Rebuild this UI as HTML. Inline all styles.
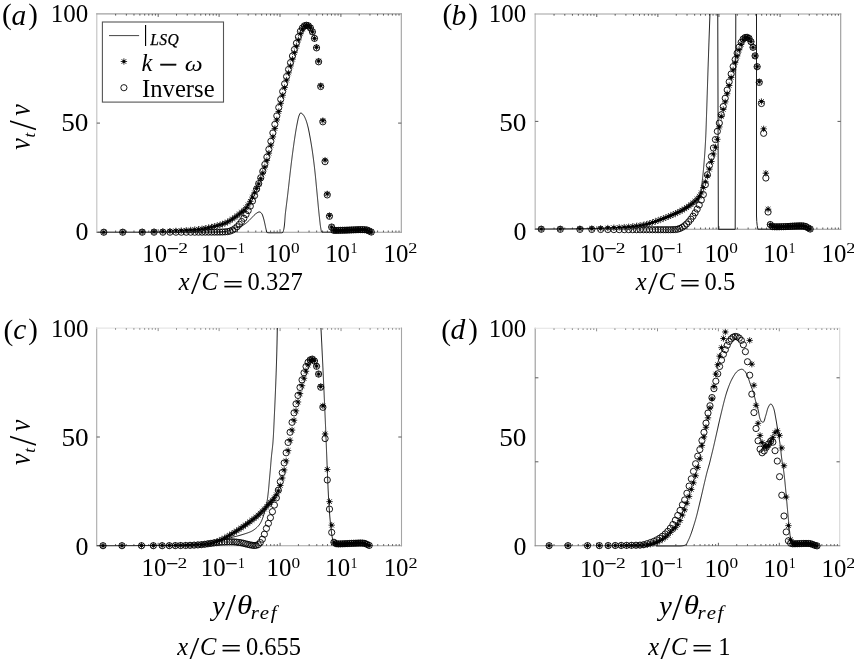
<!DOCTYPE html>
<html><head><meta charset="utf-8"><title>figure</title>
<style>html,body{margin:0;padding:0;background:#fff}svg{display:block}</style></head>
<body><svg width="854" height="662" viewBox="0 0 854 662">
<rect width="854" height="662" fill="#fff"/>
<path d="M96.80 13.35V232.75" stroke="#c0c0c0" stroke-width="1.1"/>
<path d="M96.25 13.90H401.85" stroke="#a0a0a0" stroke-width="1.1"/>
<path d="M401.30 13.35V232.75" stroke="#a0a0a0" stroke-width="1.1"/>
<path d="M96.25 232.20H401.85" stroke="#999" stroke-width="1.1"/>
<path d="M115.63 232.20v-1.7M126.36 232.20v-1.7M133.97 232.20v-1.7M139.87 232.20v-1.7M144.69 232.20v-1.7M148.77 232.20v-1.7M152.30 232.20v-1.7M155.41 232.20v-1.7M158.20 232.20v-3.0M176.53 232.20v-1.7M187.26 232.20v-1.7M194.87 232.20v-1.7M200.77 232.20v-1.7M205.59 232.20v-1.7M209.67 232.20v-1.7M213.20 232.20v-1.7M216.31 232.20v-1.7M219.10 232.20v-3.0M237.43 232.20v-1.7M248.16 232.20v-1.7M255.77 232.20v-1.7M261.67 232.20v-1.7M266.49 232.20v-1.7M270.57 232.20v-1.7M274.10 232.20v-1.7M277.21 232.20v-1.7M280.00 232.20v-3.0M298.33 232.20v-1.7M309.06 232.20v-1.7M316.67 232.20v-1.7M322.57 232.20v-1.7M327.39 232.20v-1.7M331.47 232.20v-1.7M335.00 232.20v-1.7M338.11 232.20v-1.7M340.90 232.20v-3.0M359.23 232.20v-1.7M369.96 232.20v-1.7M377.57 232.20v-1.7M383.47 232.20v-1.7M388.29 232.20v-1.7M392.37 232.20v-1.7M395.90 232.20v-1.7M399.01 232.20v-1.7M96.80 123.10h3.2M401.30 123.10h-3.2" stroke="#4a4a4a" stroke-width="0.9" fill="none"/>
<path d="M115.63 13.90v1.7M126.36 13.90v1.7M133.97 13.90v1.7M139.87 13.90v1.7M144.69 13.90v1.7M148.77 13.90v1.7M152.30 13.90v1.7M155.41 13.90v1.7M158.20 13.90v3.0M176.53 13.90v1.7M187.26 13.90v1.7M194.87 13.90v1.7M200.77 13.90v1.7M205.59 13.90v1.7M209.67 13.90v1.7M213.20 13.90v1.7M216.31 13.90v1.7M219.10 13.90v3.0M237.43 13.90v1.7M248.16 13.90v1.7M255.77 13.90v1.7M261.67 13.90v1.7M266.49 13.90v1.7M270.57 13.90v1.7M274.10 13.90v1.7M277.21 13.90v1.7M280.00 13.90v3.0M298.33 13.90v1.7M309.06 13.90v1.7M316.67 13.90v1.7M322.57 13.90v1.7M327.39 13.90v1.7M331.47 13.90v1.7M335.00 13.90v1.7M338.11 13.90v1.7M340.90 13.90v3.0M359.23 13.90v1.7M369.96 13.90v1.7M377.57 13.90v1.7M383.47 13.90v1.7M388.29 13.90v1.7M392.37 13.90v1.7M395.90 13.90v1.7M399.01 13.90v1.7" stroke="#4a4a4a" stroke-width="0.9" fill="none"/>
<clipPath id="cpa"><rect x="92.80" y="13.90" width="312.50" height="223.30"/></clipPath>
<clipPath id="cla"><rect x="96.80" y="13.90" width="304.50" height="219.80"/></clipPath>
<path d="M97.40 232.20L98.41 232.20L99.41 232.20L100.42 232.20L101.42 232.20L102.42 232.20L103.43 232.20L104.43 232.20L105.44 232.20L106.44 232.20L107.45 232.20L108.45 232.20L109.46 232.20L110.46 232.20L111.47 232.20L112.47 232.20L113.48 232.20L114.48 232.20L115.49 232.20L116.49 232.20L117.49 232.20L118.50 232.20L119.50 232.20L120.51 232.20L121.51 232.20L122.51 232.20L123.52 232.20L124.52 232.20L125.53 232.20L126.53 232.20L127.53 232.20L128.54 232.20L129.54 232.20L130.55 232.20L131.55 232.20L132.55 232.20L133.56 232.19L134.56 232.19L135.57 232.19L136.57 232.19L137.57 232.19L138.58 232.19L139.58 232.19L140.58 232.19L141.59 232.19L142.59 232.19L143.59 232.19L144.60 232.19L145.60 232.19L146.60 232.19L147.61 232.19L148.61 232.19L149.61 232.19L150.62 232.19L151.62 232.19L152.62 232.19L153.63 232.18L154.63 232.18L155.63 232.18L156.63 232.18L157.64 232.18L158.64 232.18L159.64 232.18L160.65 232.18L161.65 232.18L162.65 232.18L163.65 232.18L164.66 232.18L165.66 232.18L166.66 232.17L167.67 232.17L168.67 232.17L169.67 232.17L170.67 232.17L171.68 232.17L172.68 232.17L173.68 232.17L174.68 232.17L175.69 232.17L176.69 232.16L177.69 232.16L178.69 232.16L179.70 232.16L180.70 232.16L181.70 232.16L182.70 232.16L183.71 232.15L184.71 232.15L185.71 232.15L186.71 232.15L187.71 232.15L188.72 232.15L189.72 232.15L190.72 232.14L191.72 232.14L192.73 232.14L193.73 232.14L194.73 232.14L195.73 232.14L196.73 232.13L197.74 232.13L198.74 232.13L199.74 232.13L200.74 232.13L201.74 232.13L202.75 232.12L203.75 232.12L204.75 232.12L205.75 232.12L206.75 232.12L207.76 232.11L208.76 232.11L209.76 232.11L210.76 232.11L211.76 232.11L212.77 232.10L213.77 232.10L214.77 232.09L215.78 232.08L216.79 232.05L217.80 232.01L218.81 231.96L219.82 231.90L220.82 231.83L221.83 231.75L222.83 231.66L223.82 231.56L224.81 231.46L225.79 231.35L226.76 231.21L227.72 230.97L228.67 230.66L229.61 230.29L230.56 229.89L231.50 229.50L232.44 229.15L233.38 228.81L234.33 228.47L235.27 228.12L236.21 227.78L237.15 227.43L238.09 227.08L239.04 226.74L240.00 226.41L240.96 226.08L241.90 225.74L242.81 225.34L243.67 224.89L244.51 224.35L245.32 223.76L246.12 223.12L246.90 222.46L247.66 221.80L248.41 221.14L249.13 220.45L249.84 219.73L250.53 219.01L251.23 218.28L251.93 217.56L252.64 216.84L253.33 216.09L254.02 215.34L254.74 214.63L255.48 213.98L256.28 213.41L257.16 212.81L258.08 212.27L259.00 211.94L259.90 212.00L260.83 212.56L261.55 213.26L262.04 214.03L262.46 214.95L262.81 215.95L263.13 216.96L263.43 217.92L263.70 218.88L263.96 219.85L264.19 220.83L264.42 221.81L264.64 222.79L264.86 223.77L265.07 224.75L265.27 225.74L265.47 226.72L265.68 227.70L265.92 228.68L266.17 229.71L266.42 230.91L266.73 231.96L267.14 232.57L267.87 232.75L268.97 232.86L270.07 232.90L271.09 232.90L272.13 232.90L273.19 232.90L274.25 232.90L275.31 232.90L276.36 232.90L277.40 232.90L278.42 232.90L279.40 232.90L280.35 232.90L281.25 232.90L282.09 232.89L282.93 232.21L283.26 231.41L283.49 230.60L283.70 229.74L283.89 228.85L284.05 227.92L284.20 226.96L284.32 225.97L284.44 224.97L284.54 223.94L284.63 222.89L284.72 221.83L284.80 220.77L284.87 219.70L284.95 218.62L285.03 217.55L285.11 216.49L285.19 215.43L285.29 214.39L285.39 213.36L285.51 212.35L285.63 211.36L285.75 210.36L285.87 209.37L286.00 208.37L286.12 207.38L286.25 206.38L286.37 205.39L286.49 204.39L286.62 203.40L286.74 202.40L286.87 201.40L286.99 200.41L287.11 199.41L287.23 198.42L287.35 197.42L287.47 196.43L287.59 195.43L287.71 194.43L287.83 193.44L287.95 192.44L288.06 191.44L288.18 190.45L288.29 189.45L288.41 188.45L288.52 187.46L288.63 186.46L288.74 185.46L288.85 184.47L288.96 183.47L289.08 182.47L289.19 181.48L289.30 180.48L289.41 179.48L289.52 178.49L289.63 177.49L289.75 176.49L289.86 175.49L289.98 174.50L290.09 173.50L290.21 172.51L290.33 171.51L290.45 170.51L290.57 169.52L290.68 168.52L290.80 167.52L290.92 166.53L291.04 165.53L291.16 164.54L291.28 163.54L291.41 162.55L291.53 161.55L291.65 160.55L291.78 159.56L291.90 158.56L292.03 157.57L292.15 156.57L292.28 155.58L292.41 154.58L292.54 153.59L292.67 152.59L292.80 151.60L292.94 150.61L293.07 149.61L293.20 148.62L293.34 147.62L293.47 146.63L293.61 145.63L293.75 144.64L293.89 143.65L294.03 142.65L294.18 141.66L294.32 140.67L294.47 139.68L294.62 138.68L294.77 137.69L294.92 136.70L295.08 135.71L295.23 134.72L295.38 133.73L295.54 132.73L295.69 131.74L295.86 130.75L296.02 129.76L296.19 128.77L296.36 127.78L296.54 126.79L296.72 125.81L296.91 124.83L297.11 123.84L297.31 122.86L297.51 121.86L297.71 120.86L297.91 119.85L298.13 118.85L298.37 117.86L298.63 116.89L298.93 115.95L299.27 115.04L299.67 114.13L300.28 113.15L300.99 112.95L301.86 113.46L302.72 114.21L303.37 114.93L303.93 115.74L304.44 116.63L304.90 117.56L305.31 118.49L305.69 119.41L306.05 120.34L306.38 121.29L306.70 122.25L306.99 123.21L307.27 124.18L307.53 125.16L307.78 126.12L308.02 127.10L308.25 128.07L308.47 129.05L308.68 130.03L308.88 131.01L309.07 132.00L309.27 132.99L309.45 133.97L309.64 134.96L309.82 135.95L310.00 136.94L310.18 137.92L310.36 138.91L310.53 139.90L310.71 140.89L310.88 141.87L311.04 142.86L311.21 143.85L311.37 144.84L311.53 145.83L311.69 146.82L311.85 147.82L312.00 148.81L312.15 149.80L312.30 150.79L312.44 151.78L312.58 152.78L312.72 153.77L312.86 154.76L313.00 155.76L313.13 156.75L313.27 157.75L313.40 158.74L313.53 159.74L313.66 160.73L313.78 161.73L313.91 162.72L314.03 163.72L314.15 164.71L314.27 165.71L314.39 166.71L314.50 167.70L314.62 168.70L314.73 169.70L314.84 170.69L314.95 171.69L315.06 172.69L315.17 173.68L315.27 174.68L315.37 175.68L315.47 176.68L315.57 177.68L315.67 178.67L315.77 179.67L315.86 180.67L315.96 181.67L316.05 182.67L316.15 183.67L316.24 184.67L316.33 185.67L316.43 186.66L316.52 187.66L316.62 188.66L316.71 189.66L316.81 190.66L316.90 191.66L317.00 192.66L317.10 193.65L317.19 194.65L317.29 195.65L317.38 196.65L317.48 197.65L317.57 198.65L317.67 199.65L317.76 200.65L317.85 201.65L317.95 202.64L318.04 203.64L318.13 204.64L318.23 205.64L318.32 206.64L318.42 207.64L318.51 208.64L318.61 209.64L318.71 210.63L318.81 211.63L318.91 212.63L319.02 213.63L319.13 214.62L319.23 215.62L319.35 216.62L319.46 217.61L319.57 218.61L319.67 219.61L319.78 220.62L319.89 221.62L320.00 222.62L320.11 223.62L320.23 224.62L320.36 225.62L320.50 226.61L320.66 227.60L320.83 228.58L321.01 229.56L321.22 230.62L321.52 231.81L321.90 232.20L322.32 232.20L322.76 232.20L323.22 232.20L323.70 232.20L324.21 232.20L324.74 232.20L325.29 232.20L325.87 232.20L326.46 232.20L327.08 232.20L327.73 232.20L328.40 232.20L329.09 232.20L329.81 232.20L330.55 232.20L331.31 232.20L332.10 232.20L332.91 232.20L333.75 232.20L334.61 232.20L335.50 232.20L336.41 232.20L337.35 232.20L338.32 232.20L339.31 232.20L340.32 232.20L341.36 232.20L342.43 232.20L343.52 232.20L344.65 232.20L345.79 232.20L346.97 232.20L348.17 232.20L349.40 232.20L350.65 232.20L351.94 232.20L353.25 232.20L354.59 232.20L355.95 232.20L357.35 232.20L358.77 232.20L360.22 232.20L361.70 232.20L363.21 232.20L364.75 232.20L366.32 232.20L367.92 232.20L369.54 232.20L371.20 232.20" clip-path="url(#cla)" stroke="#111" stroke-width="0.95" fill="none" stroke-linejoin="round"/>
<path d="M100.60 232.19H107.00M103.80 228.99V235.39M101.45 229.84L106.15 234.54M101.45 234.54L106.15 229.84M102.90 231.29h1.8v1.8h-1.8zM119.52 232.09H125.92M122.72 228.89V235.29M120.37 229.74L125.07 234.44M120.37 234.44L125.07 229.74M121.82 231.19h1.8v1.8h-1.8zM139.03 231.90H145.43M142.23 228.70V235.10M139.88 229.55L144.58 234.25M139.88 234.25L144.58 229.55M141.33 231.00h1.8v1.8h-1.8zM150.84 231.73H157.24M154.04 228.53V234.93M151.69 229.38L156.39 234.08M151.69 234.08L156.39 229.38M153.14 230.83h1.8v1.8h-1.8zM159.64 231.47H166.04M162.84 228.27V234.67M160.49 229.12L165.19 233.82M160.49 233.82L165.19 229.12M161.94 230.57h1.8v1.8h-1.8zM166.75 231.20H173.15M169.95 228.00V234.40M167.60 228.85L172.30 233.55M167.60 233.55L172.30 228.85M169.05 230.30h1.8v1.8h-1.8zM172.75 230.92H179.15M175.95 227.72V234.12M173.60 228.57L178.30 233.27M173.60 233.27L178.30 228.57M175.05 230.02h1.8v1.8h-1.8zM178.06 230.61H184.46M181.26 227.41V233.81M178.91 228.26L183.61 232.96M178.91 232.96L183.61 228.26M180.36 229.71h1.8v1.8h-1.8zM183.04 230.28H189.44M186.24 227.08V233.48M183.89 227.93L188.59 232.63M183.89 232.63L188.59 227.93M185.34 229.38h1.8v1.8h-1.8zM187.47 229.95H193.87M190.67 226.75V233.15M188.32 227.60L193.02 232.30M188.32 232.30L193.02 227.60M189.77 229.05h1.8v1.8h-1.8zM191.52 229.61H197.92M194.72 226.41V232.81M192.37 227.26L197.07 231.96M192.37 231.96L197.07 227.26M193.82 228.71h1.8v1.8h-1.8zM195.28 229.24H201.68M198.48 226.04V232.44M196.13 226.89L200.83 231.59M196.13 231.59L200.83 226.89M197.58 228.34h1.8v1.8h-1.8zM198.80 228.81H205.20M202.00 225.61V232.01M199.65 226.46L204.35 231.16M199.65 231.16L204.35 226.46M201.10 227.91h1.8v1.8h-1.8zM202.12 228.30H208.52M205.32 225.10V231.50M202.97 225.95L207.67 230.65M202.97 230.65L207.67 225.95M204.42 227.40h1.8v1.8h-1.8zM205.28 227.69H211.68M208.48 224.49V230.89M206.13 225.34L210.83 230.04M206.13 230.04L210.83 225.34M207.58 226.79h1.8v1.8h-1.8zM208.30 227.03H214.70M211.50 223.83V230.23M209.15 224.68L213.85 229.38M209.15 229.38L213.85 224.68M210.60 226.13h1.8v1.8h-1.8zM211.20 226.35H217.60M214.40 223.15V229.55M212.05 224.00L216.75 228.70M212.05 228.70L216.75 224.00M213.50 225.45h1.8v1.8h-1.8zM214.00 225.66H220.40M217.20 222.46V228.86M214.85 223.31L219.55 228.01M214.85 228.01L219.55 223.31M216.30 224.76h1.8v1.8h-1.8zM216.71 224.93H223.11M219.91 221.73V228.13M217.56 222.58L222.26 227.28M217.56 227.28L222.26 222.58M219.01 224.03h1.8v1.8h-1.8zM219.33 224.10H225.73M222.53 220.90V227.30M220.18 221.75L224.88 226.45M220.18 226.45L224.88 221.75M221.63 223.20h1.8v1.8h-1.8zM221.89 223.16H228.29M225.09 219.96V226.36M222.74 220.81L227.44 225.51M222.74 225.51L227.44 220.81M224.19 222.26h1.8v1.8h-1.8zM224.39 221.98H230.79M227.59 218.78V225.18M225.24 219.63L229.94 224.33M225.24 224.33L229.94 219.63M226.69 221.08h1.8v1.8h-1.8zM226.84 220.56H233.24M230.04 217.36V223.76M227.69 218.21L232.39 222.91M227.69 222.91L232.39 218.21M229.14 219.66h1.8v1.8h-1.8zM229.23 219.00H235.63M232.43 215.80V222.20M230.08 216.65L234.78 221.35M230.08 221.35L234.78 216.65M231.53 218.10h1.8v1.8h-1.8zM231.58 217.41H237.98M234.78 214.21V220.61M232.43 215.06L237.13 219.76M232.43 219.76L237.13 215.06M233.88 216.51h1.8v1.8h-1.8zM233.89 215.72H240.29M237.09 212.52V218.92M234.74 213.37L239.44 218.07M234.74 218.07L239.44 213.37M236.19 214.82h1.8v1.8h-1.8zM236.17 213.91H242.57M239.37 210.71V217.11M237.02 211.56L241.72 216.26M237.02 216.26L241.72 211.56M238.47 213.01h1.8v1.8h-1.8zM238.41 212.13H244.81M241.61 208.93V215.33M239.26 209.78L243.96 214.48M239.26 214.48L243.96 209.78M240.71 211.23h1.8v1.8h-1.8zM240.63 210.26H247.03M243.83 207.06V213.46M241.48 207.91L246.18 212.61M241.48 212.61L246.18 207.91M242.93 209.36h1.8v1.8h-1.8zM242.82 207.86H249.22M246.02 204.66V211.06M243.67 205.51L248.37 210.21M243.67 210.21L248.37 205.51M245.12 206.96h1.8v1.8h-1.8zM244.98 204.83H251.38M248.18 201.63V208.03M245.83 202.48L250.53 207.18M245.83 207.18L250.53 202.48M247.28 203.93h1.8v1.8h-1.8zM247.12 201.35H253.52M250.32 198.15V204.55M247.97 199.00L252.67 203.70M247.97 203.70L252.67 199.00M249.42 200.45h1.8v1.8h-1.8zM249.25 197.15H255.65M252.45 193.95V200.35M250.10 194.80L254.80 199.50M250.10 199.50L254.80 194.80M251.55 196.25h1.8v1.8h-1.8zM251.35 192.86H257.75M254.55 189.66V196.06M252.20 190.51L256.90 195.21M252.20 195.21L256.90 190.51M253.65 191.96h1.8v1.8h-1.8zM253.44 188.46H259.84M256.64 185.26V191.66M254.29 186.11L258.99 190.81M254.29 190.81L258.99 186.11M255.74 187.56h1.8v1.8h-1.8zM255.51 183.93H261.91M258.71 180.73V187.13M256.36 181.58L261.06 186.28M256.36 186.28L261.06 181.58M257.81 183.03h1.8v1.8h-1.8zM257.57 178.66H263.97M260.77 175.46V181.86M258.42 176.31L263.12 181.01M258.42 181.01L263.12 176.31M259.87 177.76h1.8v1.8h-1.8zM259.61 173.00H266.01M262.81 169.80V176.20M260.46 170.65L265.16 175.35M260.46 175.35L265.16 170.65M261.91 172.10h1.8v1.8h-1.8zM261.65 167.09H268.05M264.85 163.89V170.29M262.50 164.74L267.20 169.44M262.50 169.44L267.20 164.74M263.95 166.19h1.8v1.8h-1.8zM263.67 160.46H270.07M266.87 157.26V163.66M264.52 158.11L269.22 162.81M264.52 162.81L269.22 158.11M265.97 159.56h1.8v1.8h-1.8zM265.68 153.14H272.08M268.88 149.94V156.34M266.53 150.79L271.23 155.49M266.53 155.49L271.23 150.79M267.98 152.24h1.8v1.8h-1.8zM267.68 145.17H274.08M270.88 141.97V148.37M268.53 142.82L273.23 147.52M268.53 147.52L273.23 142.82M269.98 144.27h1.8v1.8h-1.8zM269.68 136.90H276.08M272.88 133.70V140.10M270.53 134.55L275.23 139.25M270.53 139.25L275.23 134.55M271.98 136.00h1.8v1.8h-1.8zM271.65 128.45H278.05M274.85 125.25V131.65M272.50 126.10L277.20 130.80M272.50 130.80L277.20 126.10M273.95 127.55h1.8v1.8h-1.8zM273.62 119.94H280.02M276.82 116.74V123.14M274.47 117.59L279.17 122.29M274.47 122.29L279.17 117.59M275.92 119.04h1.8v1.8h-1.8zM275.57 111.53H281.97M278.77 108.33V114.73M276.42 109.18L281.12 113.88M276.42 113.88L281.12 109.18M277.87 110.63h1.8v1.8h-1.8zM277.52 103.29H283.92M280.72 100.09V106.49M278.37 100.94L283.07 105.64M278.37 105.64L283.07 100.94M279.82 102.39h1.8v1.8h-1.8zM279.47 95.28H285.87M282.67 92.08V98.48M280.32 92.93L285.02 97.63M280.32 97.63L285.02 92.93M281.77 94.38h1.8v1.8h-1.8zM281.42 87.55H287.82M284.62 84.35V90.75M282.27 85.20L286.97 89.90M282.27 89.90L286.97 85.20M283.72 86.65h1.8v1.8h-1.8zM283.38 80.08H289.78M286.58 76.88V83.28M284.23 77.73L288.93 82.43M284.23 82.43L288.93 77.73M285.68 79.18h1.8v1.8h-1.8zM285.35 72.89H291.75M288.55 69.69V76.09M286.20 70.54L290.90 75.24M286.20 75.24L290.90 70.54M287.65 71.99h1.8v1.8h-1.8zM287.31 65.95H293.71M290.51 62.75V69.15M288.16 63.60L292.86 68.30M288.16 68.30L292.86 63.60M289.61 65.05h1.8v1.8h-1.8zM289.28 59.22H295.68M292.48 56.02V62.42M290.13 56.87L294.83 61.57M290.13 61.57L294.83 56.87M291.58 58.32h1.8v1.8h-1.8zM291.25 52.67H297.65M294.45 49.47V55.87M292.10 50.32L296.80 55.02M292.10 55.02L296.80 50.32M293.55 51.77h1.8v1.8h-1.8zM293.23 46.24H299.63M296.43 43.04V49.44M294.08 43.89L298.78 48.59M294.08 48.59L298.78 43.89M295.53 45.34h1.8v1.8h-1.8zM295.21 39.93H301.61M298.41 36.73V43.13M296.06 37.58L300.76 42.28M296.06 42.28L300.76 37.58M297.51 39.03h1.8v1.8h-1.8zM297.21 33.75H303.61M300.41 30.55V36.95M298.06 31.40L302.76 36.10M298.06 36.10L302.76 31.40M299.51 32.85h1.8v1.8h-1.8zM299.21 29.13H305.61M302.41 25.93V32.33M300.06 26.78L304.76 31.48M300.06 31.48L304.76 26.78M301.51 28.23h1.8v1.8h-1.8zM301.22 26.19H307.62M304.42 22.99V29.39M302.07 23.84L306.77 28.54M302.07 28.54L306.77 23.84M303.52 25.29h1.8v1.8h-1.8zM303.22 25.30H309.62M306.42 22.10V28.50M304.07 22.95L308.77 27.65M304.07 27.65L308.77 22.95M305.52 24.40h1.8v1.8h-1.8zM305.22 25.63H311.62M308.42 22.43V28.83M306.07 23.28L310.77 27.98M306.07 27.98L310.77 23.28M307.52 24.73h1.8v1.8h-1.8zM307.22 27.78H313.62M310.42 24.58V30.98M308.07 25.43L312.77 30.13M308.07 30.13L312.77 25.43M309.52 26.88h1.8v1.8h-1.8zM309.24 31.87H315.64M312.44 28.67V35.07M310.09 29.52L314.79 34.22M310.09 34.22L314.79 29.52M311.54 30.97h1.8v1.8h-1.8zM311.29 38.37H317.69M314.49 35.17V41.57M312.14 36.02L316.84 40.72M312.14 40.72L316.84 36.02M313.59 37.47h1.8v1.8h-1.8zM313.34 47.30H319.74M316.54 44.10V50.50M314.19 44.95L318.89 49.65M314.19 49.65L318.89 44.95M315.64 46.40h1.8v1.8h-1.8zM315.40 61.10H321.80M318.60 57.90V64.30M316.25 58.75L320.95 63.45M316.25 63.45L320.95 58.75M317.70 60.20h1.8v1.8h-1.8zM317.50 85.76H323.90M320.70 82.56V88.96M318.35 83.41L323.05 88.11M318.35 88.11L323.05 83.41M319.80 84.86h1.8v1.8h-1.8zM319.65 120.62H326.05M322.85 117.42V123.82M320.50 118.27L325.20 122.97M320.50 122.97L325.20 118.27M321.95 119.72h1.8v1.8h-1.8zM321.85 160.17H328.25M325.05 156.97V163.37M322.70 157.82L327.40 162.52M322.70 162.52L327.40 157.82M324.15 159.27h1.8v1.8h-1.8zM324.05 193.91H330.45M327.25 190.71V197.11M324.90 191.56L329.60 196.26M324.90 196.26L329.60 191.56M326.35 193.01h1.8v1.8h-1.8zM326.25 215.68H332.65M329.45 212.48V218.88M327.10 213.33L331.80 218.03M327.10 218.03L331.80 213.33M328.55 214.78h1.8v1.8h-1.8zM328.45 227.05H334.85M331.65 223.85V230.25M329.30 224.70L334.00 229.40M329.30 229.40L334.00 224.70M330.75 226.15h1.8v1.8h-1.8zM330.66 230.38H337.06M333.86 227.18V233.58M331.51 228.03L336.21 232.73M331.51 232.73L336.21 228.03M332.96 229.48h1.8v1.8h-1.8zM332.86 230.40H339.26M336.06 227.20V233.60M333.71 228.05L338.41 232.75M333.71 232.75L338.41 228.05M335.16 229.50h1.8v1.8h-1.8zM335.06 230.38H341.46M338.26 227.18V233.58M335.91 228.03L340.61 232.73M335.91 232.73L340.61 228.03M337.36 229.48h1.8v1.8h-1.8zM337.26 230.33H343.66M340.46 227.13V233.53M338.11 227.98L342.81 232.68M338.11 232.68L342.81 227.98M339.56 229.43h1.8v1.8h-1.8zM339.46 230.27H345.86M342.66 227.07V233.47M340.31 227.92L345.01 232.62M340.31 232.62L345.01 227.92M341.76 229.37h1.8v1.8h-1.8zM341.66 230.20H348.06M344.86 227.00V233.40M342.51 227.85L347.21 232.55M342.51 232.55L347.21 227.85M343.96 229.30h1.8v1.8h-1.8zM343.86 230.13H350.26M347.06 226.93V233.33M344.71 227.78L349.41 232.48M344.71 232.48L349.41 227.78M346.16 229.23h1.8v1.8h-1.8zM346.07 230.04H352.47M349.27 226.84V233.24M346.92 227.69L351.62 232.39M346.92 232.39L351.62 227.69M348.37 229.14h1.8v1.8h-1.8zM348.27 229.94H354.67M351.47 226.74V233.14M349.12 227.59L353.82 232.29M349.12 232.29L353.82 227.59M350.57 229.04h1.8v1.8h-1.8zM350.47 229.85H356.87M353.67 226.65V233.05M351.32 227.50L356.02 232.20M351.32 232.20L356.02 227.50M352.77 228.95h1.8v1.8h-1.8zM352.67 229.77H359.07M355.87 226.57V232.97M353.52 227.42L358.22 232.12M353.52 232.12L358.22 227.42M354.97 228.87h1.8v1.8h-1.8zM354.87 229.69H361.27M358.07 226.49V232.89M355.72 227.34L360.42 232.04M355.72 232.04L360.42 227.34M357.17 228.79h1.8v1.8h-1.8zM357.07 229.62H363.47M360.27 226.42V232.82M357.92 227.27L362.62 231.97M357.92 231.97L362.62 227.27M359.37 228.72h1.8v1.8h-1.8zM359.27 229.60H365.67M362.47 226.40V232.80M360.12 227.25L364.82 231.95M360.12 231.95L364.82 227.25M361.57 228.70h1.8v1.8h-1.8zM361.48 229.72H367.88M364.68 226.52V232.92M362.33 227.37L367.03 232.07M362.33 232.07L367.03 227.37M363.78 228.82h1.8v1.8h-1.8zM363.68 229.98H370.08M366.88 226.78V233.18M364.53 227.63L369.23 232.33M364.53 232.33L369.23 227.63M365.98 229.08h1.8v1.8h-1.8zM365.88 230.98H372.28M369.08 227.78V234.18M366.73 228.63L371.43 233.33M366.73 233.33L371.43 228.63M368.18 230.08h1.8v1.8h-1.8zM368.08 232.04H374.48M371.28 228.84V235.24M368.93 229.69L373.63 234.39M368.93 234.39L373.63 229.69M370.38 231.14h1.8v1.8h-1.8z" stroke="#000" stroke-width="0.8" fill="#000"/>
<g stroke="#000" stroke-width="0.9" fill="none"><circle cx="103.80" cy="232.20" r="3.1"/><circle cx="122.72" cy="232.20" r="3.1"/><circle cx="142.23" cy="232.20" r="3.1"/><circle cx="154.04" cy="232.20" r="3.1"/><circle cx="162.84" cy="232.20" r="3.1"/><circle cx="169.95" cy="232.20" r="3.1"/><circle cx="175.95" cy="232.20" r="3.1"/><circle cx="181.26" cy="232.20" r="3.1"/><circle cx="186.24" cy="232.20" r="3.1"/><circle cx="190.67" cy="232.20" r="3.1"/><circle cx="194.72" cy="232.20" r="3.1"/><circle cx="198.48" cy="232.18" r="3.1"/><circle cx="202.00" cy="232.17" r="3.1"/><circle cx="205.32" cy="232.15" r="3.1"/><circle cx="208.48" cy="232.14" r="3.1"/><circle cx="211.50" cy="232.12" r="3.1"/><circle cx="214.40" cy="232.10" r="3.1"/><circle cx="217.20" cy="232.08" r="3.1"/><circle cx="219.91" cy="232.04" r="3.1"/><circle cx="222.53" cy="231.99" r="3.1"/><circle cx="225.09" cy="231.86" r="3.1"/><circle cx="227.59" cy="231.63" r="3.1"/><circle cx="230.04" cy="231.10" r="3.1"/><circle cx="232.43" cy="230.12" r="3.1"/><circle cx="234.78" cy="228.69" r="3.1"/><circle cx="237.09" cy="226.74" r="3.1"/><circle cx="239.37" cy="224.32" r="3.1"/><circle cx="241.61" cy="221.50" r="3.1"/><circle cx="243.83" cy="218.32" r="3.1"/><circle cx="246.02" cy="214.48" r="3.1"/><circle cx="248.18" cy="210.61" r="3.1"/><circle cx="250.32" cy="206.15" r="3.1"/><circle cx="252.45" cy="201.05" r="3.1"/><circle cx="254.55" cy="195.62" r="3.1"/><circle cx="256.64" cy="189.04" r="3.1"/><circle cx="258.71" cy="183.63" r="3.1"/><circle cx="260.77" cy="177.70" r="3.1"/><circle cx="262.81" cy="171.29" r="3.1"/><circle cx="264.85" cy="164.44" r="3.1"/><circle cx="266.87" cy="157.13" r="3.1"/><circle cx="268.88" cy="149.40" r="3.1"/><circle cx="270.88" cy="141.28" r="3.1"/><circle cx="272.88" cy="132.86" r="3.1"/><circle cx="274.85" cy="124.35" r="3.1"/><circle cx="276.82" cy="115.84" r="3.1"/><circle cx="278.77" cy="107.49" r="3.1"/><circle cx="280.72" cy="99.35" r="3.1"/><circle cx="282.67" cy="91.48" r="3.1"/><circle cx="284.62" cy="83.89" r="3.1"/><circle cx="286.58" cy="76.56" r="3.1"/><circle cx="288.55" cy="69.50" r="3.1"/><circle cx="290.51" cy="62.68" r="3.1"/><circle cx="292.48" cy="56.04" r="3.1"/><circle cx="294.45" cy="49.57" r="3.1"/><circle cx="296.43" cy="43.20" r="3.1"/><circle cx="298.41" cy="36.88" r="3.1"/><circle cx="300.41" cy="31.27" r="3.1"/><circle cx="302.41" cy="27.95" r="3.1"/><circle cx="304.42" cy="25.83" r="3.1"/><circle cx="306.42" cy="25.24" r="3.1"/><circle cx="308.42" cy="25.85" r="3.1"/><circle cx="310.42" cy="27.96" r="3.1"/><circle cx="312.44" cy="31.85" r="3.1"/><circle cx="314.49" cy="38.37" r="3.1"/><circle cx="316.54" cy="47.89" r="3.1"/><circle cx="318.60" cy="61.80" r="3.1"/><circle cx="320.70" cy="86.56" r="3.1"/><circle cx="322.85" cy="121.81" r="3.1"/><circle cx="325.05" cy="161.67" r="3.1"/><circle cx="327.25" cy="194.92" r="3.1"/><circle cx="329.45" cy="216.30" r="3.1"/><circle cx="331.65" cy="227.06" r="3.1"/><circle cx="333.86" cy="230.38" r="3.1"/><circle cx="336.06" cy="230.40" r="3.1"/><circle cx="338.26" cy="230.38" r="3.1"/><circle cx="340.46" cy="230.33" r="3.1"/><circle cx="342.66" cy="230.27" r="3.1"/><circle cx="344.86" cy="230.20" r="3.1"/><circle cx="347.06" cy="230.13" r="3.1"/><circle cx="349.27" cy="230.04" r="3.1"/><circle cx="351.47" cy="229.94" r="3.1"/><circle cx="353.67" cy="229.85" r="3.1"/><circle cx="355.87" cy="229.77" r="3.1"/><circle cx="358.07" cy="229.69" r="3.1"/><circle cx="360.27" cy="229.62" r="3.1"/><circle cx="362.47" cy="229.60" r="3.1"/><circle cx="364.68" cy="229.72" r="3.1"/><circle cx="366.88" cy="229.98" r="3.1"/><circle cx="369.08" cy="230.98" r="3.1"/><circle cx="371.28" cy="232.04" r="3.1"/></g>
<path d="M535.15 13.45V229.75" stroke="#b0b0b0" stroke-width="1.1"/>
<path d="M534.60 14.00H841.25" stroke="#a0a0a0" stroke-width="1.1"/>
<path d="M840.70 13.45V229.75" stroke="#999" stroke-width="1.1"/>
<path d="M534.60 229.20H841.25" stroke="#999" stroke-width="1.1"/>
<path d="M554.05 229.20v-1.7M564.81 229.20v-1.7M572.44 229.20v-1.7M578.36 229.20v-1.7M583.20 229.20v-1.7M587.29 229.20v-1.7M590.84 229.20v-1.7M593.96 229.20v-1.7M596.76 229.20v-3.0M615.16 229.20v-1.7M625.92 229.20v-1.7M633.55 229.20v-1.7M639.47 229.20v-1.7M644.31 229.20v-1.7M648.40 229.20v-1.7M651.95 229.20v-1.7M655.07 229.20v-1.7M657.87 229.20v-3.0M676.27 229.20v-1.7M687.03 229.20v-1.7M694.66 229.20v-1.7M700.58 229.20v-1.7M705.42 229.20v-1.7M709.51 229.20v-1.7M713.06 229.20v-1.7M716.18 229.20v-1.7M718.98 229.20v-3.0M737.38 229.20v-1.7M748.14 229.20v-1.7M755.77 229.20v-1.7M761.69 229.20v-1.7M766.53 229.20v-1.7M770.62 229.20v-1.7M774.17 229.20v-1.7M777.29 229.20v-1.7M780.09 229.20v-3.0M798.49 229.20v-1.7M809.25 229.20v-1.7M816.88 229.20v-1.7M822.80 229.20v-1.7M827.64 229.20v-1.7M831.73 229.20v-1.7M835.28 229.20v-1.7M838.40 229.20v-1.7M535.15 121.40h3.2M840.70 121.40h-3.2" stroke="#4a4a4a" stroke-width="0.9" fill="none"/>
<path d="M554.05 14.00v1.7M564.81 14.00v1.7M572.44 14.00v1.7M578.36 14.00v1.7M583.20 14.00v1.7M587.29 14.00v1.7M590.84 14.00v1.7M593.96 14.00v1.7M596.76 14.00v3.0M615.16 14.00v1.7M625.92 14.00v1.7M633.55 14.00v1.7M639.47 14.00v1.7M644.31 14.00v1.7M648.40 14.00v1.7M651.95 14.00v1.7M655.07 14.00v1.7M657.87 14.00v3.0M676.27 14.00v1.7M687.03 14.00v1.7M694.66 14.00v1.7M700.58 14.00v1.7M705.42 14.00v1.7M709.51 14.00v1.7M713.06 14.00v1.7M716.18 14.00v1.7M718.98 14.00v3.0M737.38 14.00v1.7M748.14 14.00v1.7M755.77 14.00v1.7M761.69 14.00v1.7M766.53 14.00v1.7M770.62 14.00v1.7M774.17 14.00v1.7M777.29 14.00v1.7M780.09 14.00v3.0M798.49 14.00v1.7M809.25 14.00v1.7M816.88 14.00v1.7M822.80 14.00v1.7M827.64 14.00v1.7M831.73 14.00v1.7M835.28 14.00v1.7M838.40 14.00v1.7" stroke="#4a4a4a" stroke-width="0.9" fill="none"/>
<clipPath id="cpb"><rect x="531.15" y="14.00" width="313.55" height="220.20"/></clipPath>
<clipPath id="clb"><rect x="535.15" y="14.00" width="305.55" height="216.70"/></clipPath>
<path d="M534.80 229.00L535.80 229.00L536.81 229.00L537.81 229.00L538.82 229.00L539.82 229.00L540.83 228.99L541.83 228.99L542.84 228.99L543.84 228.99L544.85 228.98L545.85 228.98L546.86 228.98L547.86 228.97L548.87 228.97L549.87 228.97L550.88 228.96L551.88 228.96L552.89 228.95L553.89 228.95L554.90 228.94L555.90 228.93L556.91 228.93L557.91 228.92L558.91 228.92L559.92 228.91L560.92 228.90L561.93 228.89L562.93 228.89L563.94 228.88L564.94 228.87L565.95 228.86L566.95 228.85L567.95 228.85L568.96 228.84L569.96 228.83L570.97 228.82L571.97 228.81L572.98 228.80L573.98 228.79L574.98 228.78L575.99 228.77L576.99 228.76L578.00 228.75L579.00 228.73L580.01 228.72L581.01 228.71L582.01 228.70L583.02 228.69L584.02 228.68L585.03 228.66L586.03 228.65L587.03 228.64L588.04 228.63L589.04 228.61L590.05 228.60L591.05 228.58L592.06 228.57L593.06 228.55L594.06 228.53L595.07 228.50L596.07 228.48L597.08 228.45L598.08 228.42L599.09 228.39L600.09 228.36L601.10 228.32L602.10 228.29L603.10 228.25L604.11 228.21L605.11 228.16L606.12 228.12L607.12 228.08L608.12 228.03L609.13 227.98L610.13 227.94L611.14 227.89L612.14 227.83L613.14 227.78L614.14 227.73L615.15 227.67L616.15 227.62L617.15 227.56L618.15 227.51L619.16 227.45L620.16 227.39L621.16 227.33L622.16 227.27L623.17 227.20L624.17 227.13L625.18 227.05L626.19 226.98L627.19 226.90L628.20 226.81L629.20 226.72L630.21 226.63L631.21 226.53L632.22 226.43L633.22 226.32L634.22 226.21L635.21 226.10L636.21 225.98L637.20 225.85L638.20 225.73L639.18 225.59L640.17 225.45L641.15 225.31L642.13 225.15L643.11 224.97L644.09 224.78L645.06 224.56L646.03 224.33L647.01 224.08L647.98 223.82L648.95 223.54L649.91 223.25L650.88 222.95L651.84 222.64L652.80 222.32L653.76 221.99L654.72 221.66L655.67 221.32L656.63 220.98L657.58 220.63L658.53 220.28L659.47 219.94L660.42 219.59L661.36 219.24L662.30 218.90L663.24 218.56L664.18 218.21L665.12 217.85L666.05 217.49L666.99 217.12L667.92 216.74L668.86 216.36L669.79 215.98L670.72 215.58L671.65 215.18L672.57 214.78L673.49 214.37L674.41 213.95L675.33 213.53L676.24 213.10L677.15 212.66L678.06 212.22L678.96 211.78L679.85 211.32L680.75 210.87L681.63 210.40L682.51 209.93L683.39 209.46L684.26 208.98L685.13 208.48L685.99 207.96L686.84 207.44L687.69 206.90L688.54 206.35L689.38 205.79L690.21 205.22L691.04 204.64L691.86 204.06L692.68 203.47L693.49 202.88L694.30 202.28L695.17 201.70L696.05 201.10L696.90 200.48L697.64 199.83L698.23 199.12L698.66 198.32L699.05 197.44L699.39 196.48L699.69 195.48L699.96 194.46L700.20 193.45L700.41 192.45L700.60 191.48L700.79 190.50L700.97 189.52L701.15 188.54L701.31 187.55L701.47 186.56L701.63 185.57L701.77 184.58L701.91 183.58L702.05 182.58L702.18 181.58L702.31 180.58L702.43 179.58L702.55 178.58L702.66 177.57L702.77 176.57L702.88 175.57L702.98 174.56L703.08 173.56L703.18 172.56L703.28 171.55L703.37 170.55L703.47 169.55L703.56 168.55L703.65 167.55L703.74 166.56L703.83 165.56L703.91 164.56L704.00 163.55L704.08 162.55L704.16 161.55L704.24 160.55L704.32 159.55L704.40 158.55L704.48 157.55L704.55 156.54L704.62 155.54L704.70 154.54L704.77 153.54L704.84 152.53L704.90 151.53L704.97 150.53L705.03 149.53L705.10 148.52L705.16 147.52L705.22 146.52L705.28 145.51L705.34 144.51L705.39 143.51L705.45 142.50L705.50 141.50L705.55 140.50L705.60 139.49L705.65 138.49L705.70 137.49L705.75 136.48L705.79 135.48L705.84 134.48L705.88 133.47L705.92 132.47L705.96 131.47L706.00 130.46L706.04 129.46L706.08 128.46L706.11 127.45L706.15 126.45L706.19 125.44L706.22 124.44L706.26 123.44L706.29 122.43L706.32 121.43L706.36 120.42L706.39 119.42L706.42 118.41L706.45 117.41L706.49 116.41L706.52 115.40L706.55 114.40L706.59 113.39L706.62 112.39L706.65 111.39L706.69 110.38L706.72 109.38L706.76 108.37L706.79 107.37L706.82 106.37L706.86 105.36L706.89 104.36L706.92 103.35L706.96 102.35L706.99 101.35L707.02 100.34L707.06 99.34L707.09 98.33L707.12 97.33L707.15 96.33L707.18 95.32L707.22 94.32L707.25 93.31L707.28 92.31L707.31 91.31L707.34 90.30L707.38 89.30L707.41 88.29L707.44 87.29L707.47 86.29L707.50 85.28L707.54 84.28L707.57 83.27L707.60 82.27L707.63 81.27L707.66 80.26L707.70 79.26L707.73 78.25L707.76 77.25L707.79 76.25L707.83 75.24L707.86 74.24L707.89 73.23L707.93 72.23L707.96 71.23L707.99 70.22L708.03 69.22L708.06 68.21L708.09 67.21L708.13 66.21L708.16 65.20L708.20 64.20L708.23 63.19L708.26 62.19L708.30 61.19L708.33 60.18L708.37 59.18L708.40 58.18L708.44 57.17L708.47 56.17L708.50 55.16L708.54 54.16L708.57 53.16L708.61 52.15L708.64 51.15L708.68 50.14L708.71 49.14L708.75 48.14L708.78 47.13L708.82 46.13L708.85 45.12L708.89 44.12L708.92 43.12L708.96 42.11L708.99 41.11L709.03 40.10L709.06 39.10L709.10 38.10L709.13 37.09L709.17 36.09L709.21 35.09L709.24 34.08L709.28 33.08L709.31 32.07L709.35 31.07L709.38 30.07L709.42 29.06L709.46 28.06L709.49 27.05L709.53 26.05L709.56 25.05L709.60 24.04L709.64 23.04L709.67 22.03L709.71 21.03L709.74 20.03L709.78 19.02L709.82 18.02L709.85 17.02L709.89 16.01L709.93 15.01L709.96 14.00L710.00 13.00M717.75 13.00L718.35 229.30L735.20 229.30L735.80 13.00M756.50 13.00L756.50 216.00L756.75 221.50L757.20 225.50L757.90 229.20M757.80 229.20L809.50 229.20" clip-path="url(#clb)" stroke="#111" stroke-width="0.95" fill="none" stroke-linejoin="round"/>
<path d="M538.05 228.99H544.45M541.25 225.79V232.19M538.90 226.64L543.60 231.34M538.90 231.34L543.60 226.64M540.35 228.09h1.8v1.8h-1.8zM557.08 228.90H563.48M560.28 225.70V232.10M557.93 226.55L562.63 231.25M557.93 231.25L562.63 226.55M559.38 228.00h1.8v1.8h-1.8zM576.72 228.72H583.12M579.92 225.52V231.92M577.57 226.37L582.27 231.07M577.57 231.07L582.27 226.37M579.02 227.82h1.8v1.8h-1.8zM588.61 228.57H595.01M591.81 225.37V231.77M589.46 226.22L594.16 230.92M589.46 230.92L594.16 226.22M590.91 227.67h1.8v1.8h-1.8zM597.47 228.34H603.87M600.67 225.14V231.54M598.32 225.99L603.02 230.69M598.32 230.69L603.02 225.99M599.77 227.44h1.8v1.8h-1.8zM604.62 228.05H611.02M607.82 224.85V231.25M605.47 225.70L610.17 230.40M605.47 230.40L610.17 225.70M606.92 227.15h1.8v1.8h-1.8zM610.67 227.74H617.07M613.87 224.54V230.94M611.52 225.39L616.22 230.09M611.52 230.09L616.22 225.39M612.97 226.84h1.8v1.8h-1.8zM616.01 227.45H622.41M619.21 224.25V230.65M616.86 225.10L621.56 229.80M616.86 229.80L621.56 225.10M618.31 226.55h1.8v1.8h-1.8zM621.03 227.13H627.43M624.23 223.93V230.33M621.88 224.78L626.58 229.48M621.88 229.48L626.58 224.78M623.33 226.23h1.8v1.8h-1.8zM625.48 226.77H631.88M628.68 223.57V229.97M626.33 224.42L631.03 229.12M626.33 229.12L631.03 224.42M627.78 225.87h1.8v1.8h-1.8zM629.56 226.37H635.96M632.76 223.17V229.57M630.41 224.02L635.11 228.72M630.41 228.72L635.11 224.02M631.86 225.47h1.8v1.8h-1.8zM633.34 225.94H639.74M636.54 222.74V229.14M634.19 223.59L638.89 228.29M634.19 228.29L638.89 223.59M635.64 225.04h1.8v1.8h-1.8zM636.89 225.46H643.29M640.09 222.26V228.66M637.74 223.11L642.44 227.81M637.74 227.81L642.44 223.11M639.19 224.56h1.8v1.8h-1.8zM640.23 224.91H646.63M643.43 221.71V228.11M641.08 222.56L645.78 227.26M641.08 227.26L645.78 222.56M642.53 224.01h1.8v1.8h-1.8zM643.41 224.18H649.81M646.61 220.98V227.38M644.26 221.83L648.96 226.53M644.26 226.53L648.96 221.83M645.71 223.28h1.8v1.8h-1.8zM646.45 223.32H652.85M649.65 220.12V226.52M647.30 220.97L652.00 225.67M647.30 225.67L652.00 220.97M648.75 222.42h1.8v1.8h-1.8zM649.37 222.39H655.77M652.57 219.19V225.59M650.22 220.04L654.92 224.74M650.22 224.74L654.92 220.04M651.67 221.49h1.8v1.8h-1.8zM652.19 221.41H658.59M655.39 218.21V224.61M653.04 219.06L657.74 223.76M653.04 223.76L657.74 219.06M654.49 220.51h1.8v1.8h-1.8zM654.91 220.43H661.31M658.11 217.23V223.63M655.76 218.08L660.46 222.78M655.76 222.78L660.46 218.08M657.21 219.53h1.8v1.8h-1.8zM657.56 219.46H663.96M660.76 216.26V222.66M658.41 217.11L663.11 221.81M658.41 221.81L663.11 217.11M659.86 218.56h1.8v1.8h-1.8zM660.13 218.52H666.53M663.33 215.32V221.72M660.98 216.17L665.68 220.87M660.98 220.87L665.68 216.17M662.43 217.62h1.8v1.8h-1.8zM662.65 217.58H669.05M665.85 214.38V220.78M663.50 215.23L668.20 219.93M663.50 219.93L668.20 215.23M664.95 216.68h1.8v1.8h-1.8zM665.11 216.61H671.51M668.31 213.41V219.81M665.96 214.26L670.66 218.96M665.96 218.96L670.66 214.26M667.41 215.71h1.8v1.8h-1.8zM667.52 215.62H673.92M670.72 212.42V218.82M668.37 213.27L673.07 217.97M668.37 217.97L673.07 213.27M669.82 214.72h1.8v1.8h-1.8zM669.88 214.60H676.28M673.08 211.40V217.80M670.73 212.25L675.43 216.95M670.73 216.95L675.43 212.25M672.18 213.70h1.8v1.8h-1.8zM672.21 213.54H678.61M675.41 210.34V216.74M673.06 211.19L677.76 215.89M673.06 215.89L677.76 211.19M674.51 212.64h1.8v1.8h-1.8zM674.50 212.45H680.90M677.70 209.25V215.65M675.35 210.10L680.05 214.80M675.35 214.80L680.05 210.10M676.80 211.55h1.8v1.8h-1.8zM676.76 211.31H683.16M679.96 208.11V214.51M677.61 208.96L682.31 213.66M677.61 213.66L682.31 208.96M679.06 210.41h1.8v1.8h-1.8zM678.99 210.12H685.39M682.19 206.92V213.32M679.84 207.77L684.54 212.47M679.84 212.47L684.54 207.77M681.29 209.22h1.8v1.8h-1.8zM681.19 208.89H687.59M684.39 205.69V212.09M682.04 206.54L686.74 211.24M682.04 211.24L686.74 206.54M683.49 207.99h1.8v1.8h-1.8zM683.37 207.57H689.77M686.57 204.37V210.77M684.22 205.22L688.92 209.92M684.22 209.92L688.92 205.22M685.67 206.67h1.8v1.8h-1.8zM685.53 206.15H691.93M688.73 202.95V209.35M686.38 203.80L691.08 208.50M686.38 208.50L691.08 203.80M687.83 205.25h1.8v1.8h-1.8zM687.67 204.59H694.07M690.87 201.39V207.79M688.52 202.24L693.22 206.94M688.52 206.94L693.22 202.24M689.97 203.69h1.8v1.8h-1.8zM689.78 202.88H696.18M692.98 199.68V206.08M690.63 200.53L695.33 205.23M690.63 205.23L695.33 200.53M692.08 201.98h1.8v1.8h-1.8zM691.89 201.01H698.29M695.09 197.81V204.21M692.74 198.66L697.44 203.36M692.74 203.36L697.44 198.66M694.19 200.11h1.8v1.8h-1.8zM693.97 198.92H700.37M697.17 195.72V202.12M694.82 196.57L699.52 201.27M694.82 201.27L699.52 196.57M696.27 198.02h1.8v1.8h-1.8zM696.04 196.35H702.44M699.24 193.15V199.55M696.89 194.00L701.59 198.70M696.89 198.70L701.59 194.00M698.34 195.45h1.8v1.8h-1.8zM698.10 192.86H704.50M701.30 189.66V196.06M698.95 190.51L703.65 195.21M698.95 195.21L703.65 190.51M700.40 191.96h1.8v1.8h-1.8zM700.15 187.54H706.55M703.35 184.34V190.74M701.00 185.19L705.70 189.89M701.00 189.89L705.70 185.19M702.45 186.64h1.8v1.8h-1.8zM702.18 181.81H708.58M705.38 178.61V185.01M703.03 179.46L707.73 184.16M703.03 184.16L707.73 179.46M704.48 180.91h1.8v1.8h-1.8zM704.21 175.80H710.61M707.41 172.60V179.00M705.06 173.45L709.76 178.15M705.06 178.15L709.76 173.45M706.51 174.90h1.8v1.8h-1.8zM706.22 169.14H712.62M709.42 165.94V172.34M707.07 166.79L711.77 171.49M707.07 171.49L711.77 166.79M708.52 168.24h1.8v1.8h-1.8zM708.23 161.54H714.63M711.43 158.34V164.74M709.08 159.19L713.78 163.89M709.08 163.89L713.78 159.19M710.53 160.64h1.8v1.8h-1.8zM710.22 153.98H716.62M713.42 150.78V157.18M711.07 151.63L715.77 156.33M711.07 156.33L715.77 151.63M712.52 153.08h1.8v1.8h-1.8zM712.20 147.18H718.60M715.40 143.98V150.38M713.05 144.83L717.75 149.53M713.05 149.53L717.75 144.83M714.50 146.28h1.8v1.8h-1.8zM714.16 139.31H720.56M717.36 136.11V142.51M715.01 136.96L719.71 141.66M715.01 141.66L719.71 136.96M716.46 138.41h1.8v1.8h-1.8zM716.13 126.92H722.53M719.33 123.72V130.12M716.98 124.57L721.68 129.27M716.98 129.27L721.68 124.57M718.43 126.02h1.8v1.8h-1.8zM718.09 116.36H724.49M721.29 113.16V119.56M718.94 114.01L723.64 118.71M718.94 118.71L723.64 114.01M720.39 115.46h1.8v1.8h-1.8zM720.05 109.41H726.45M723.25 106.21V112.61M720.90 107.06L725.60 111.76M720.90 111.76L725.60 107.06M722.35 108.51h1.8v1.8h-1.8zM722.03 101.88H728.43M725.23 98.68V105.08M722.88 99.53L727.58 104.23M722.88 104.23L727.58 99.53M724.33 100.98h1.8v1.8h-1.8zM724.00 93.73H730.40M727.20 90.53V96.93M724.85 91.38L729.55 96.08M724.85 96.08L729.55 91.38M726.30 92.83h1.8v1.8h-1.8zM725.98 85.51H732.38M729.18 82.31V88.71M726.83 83.16L731.53 87.86M726.83 87.86L731.53 83.16M728.28 84.61h1.8v1.8h-1.8zM727.96 77.51H734.36M731.16 74.31V80.71M728.81 75.16L733.51 79.86M728.81 79.86L733.51 75.16M730.26 76.61h1.8v1.8h-1.8zM729.95 69.87H736.35M733.15 66.67V73.07M730.80 67.52L735.50 72.22M730.80 72.22L735.50 67.52M732.25 68.97h1.8v1.8h-1.8zM731.94 62.66H738.34M735.14 59.46V65.86M732.79 60.31L737.49 65.01M732.79 65.01L737.49 60.31M734.24 61.76h1.8v1.8h-1.8zM733.93 55.99H740.33M737.13 52.79V59.19M734.78 53.64L739.48 58.34M734.78 58.34L739.48 53.64M736.23 55.09h1.8v1.8h-1.8zM735.95 49.82H742.35M739.15 46.62V53.02M736.80 47.47L741.50 52.17M736.80 52.17L741.50 47.47M738.25 48.92h1.8v1.8h-1.8zM737.96 44.25H744.36M741.16 41.05V47.45M738.81 41.90L743.51 46.60M738.81 46.60L743.51 41.90M740.26 43.35h1.8v1.8h-1.8zM739.98 39.84H746.38M743.18 36.64V43.04M740.83 37.49L745.53 42.19M740.83 42.19L745.53 37.49M742.28 38.94h1.8v1.8h-1.8zM741.96 37.66H748.36M745.16 34.46V40.86M742.81 35.31L747.51 40.01M742.81 40.01L747.51 35.31M744.26 36.76h1.8v1.8h-1.8zM743.90 37.22H750.30M747.10 34.02V40.42M744.75 34.87L749.45 39.57M744.75 39.57L749.45 34.87M746.20 36.32h1.8v1.8h-1.8zM745.84 38.20H752.24M749.04 35.00V41.40M746.69 35.85L751.39 40.55M746.69 40.55L751.39 35.85M748.14 37.30h1.8v1.8h-1.8zM747.80 41.62H754.20M751.00 38.42V44.82M748.65 39.27L753.35 43.97M748.65 43.97L753.35 39.27M750.10 40.72h1.8v1.8h-1.8zM749.82 47.34H756.22M753.02 44.14V50.54M750.67 44.99L755.37 49.69M750.67 49.69L755.37 44.99M752.12 46.44h1.8v1.8h-1.8zM751.88 55.88H758.28M755.08 52.68V59.08M752.73 53.53L757.43 58.23M752.73 58.23L757.43 53.53M754.18 54.98h1.8v1.8h-1.8zM753.95 66.70H760.35M757.15 63.50V69.90M754.80 64.35L759.50 69.05M754.80 69.05L759.50 64.35M756.25 65.80h1.8v1.8h-1.8zM756.06 81.72H762.46M759.26 78.52V84.92M756.91 79.37L761.61 84.07M756.91 84.07L761.61 79.37M758.36 80.82h1.8v1.8h-1.8zM758.23 101.56H764.63M761.43 98.36V104.76M759.08 99.21L763.78 103.91M759.08 103.91L763.78 99.21M760.53 100.66h1.8v1.8h-1.8zM760.45 128.85H766.85M763.65 125.65V132.05M761.30 126.50L766.00 131.20M761.30 131.20L766.00 126.50M762.75 127.95h1.8v1.8h-1.8zM762.66 173.21H769.06M765.86 170.01V176.41M763.51 170.86L768.21 175.56M763.51 175.56L768.21 170.86M764.96 172.31h1.8v1.8h-1.8zM764.88 209.18H771.28M768.08 205.98V212.38M765.73 206.83L770.43 211.53M765.73 211.53L770.43 206.83M767.18 208.28h1.8v1.8h-1.8zM767.09 224.56H773.49M770.29 221.36V227.76M767.94 222.21L772.64 226.91M767.94 226.91L772.64 222.21M769.39 223.66h1.8v1.8h-1.8zM769.31 226.60H775.71M772.51 223.40V229.80M770.16 224.25L774.86 228.95M770.16 228.95L774.86 224.25M771.61 225.70h1.8v1.8h-1.8zM771.53 226.77H777.93M774.73 223.57V229.97M772.38 224.42L777.08 229.12M772.38 229.12L777.08 224.42M773.83 225.87h1.8v1.8h-1.8zM773.74 226.80H780.14M776.94 223.60V230.00M774.59 224.45L779.29 229.15M774.59 229.15L779.29 224.45M776.04 225.90h1.8v1.8h-1.8zM775.96 226.77H782.36M779.16 223.57V229.97M776.81 224.42L781.51 229.12M776.81 229.12L781.51 224.42M778.26 225.87h1.8v1.8h-1.8zM778.17 226.71H784.57M781.37 223.51V229.91M779.02 224.36L783.72 229.06M779.02 229.06L783.72 224.36M780.47 225.81h1.8v1.8h-1.8zM780.39 226.65H786.79M783.59 223.45V229.85M781.24 224.30L785.94 229.00M781.24 229.00L785.94 224.30M782.69 225.75h1.8v1.8h-1.8zM782.61 226.57H789.01M785.81 223.37V229.77M783.46 224.22L788.16 228.92M783.46 228.92L788.16 224.22M784.91 225.67h1.8v1.8h-1.8zM784.82 226.45H791.22M788.02 223.25V229.65M785.67 224.10L790.37 228.80M785.67 228.80L790.37 224.10M787.12 225.55h1.8v1.8h-1.8zM787.04 226.30H793.44M790.24 223.10V229.50M787.89 223.95L792.59 228.65M787.89 228.65L792.59 223.95M789.34 225.40h1.8v1.8h-1.8zM789.25 226.14H795.65M792.45 222.94V229.34M790.10 223.79L794.80 228.49M790.10 228.49L794.80 223.79M791.55 225.24h1.8v1.8h-1.8zM791.47 226.01H797.87M794.67 222.81V229.21M792.32 223.66L797.02 228.36M792.32 228.36L797.02 223.66M793.77 225.11h1.8v1.8h-1.8zM793.69 225.92H800.09M796.89 222.72V229.12M794.54 223.57L799.24 228.27M794.54 228.27L799.24 223.57M795.99 225.02h1.8v1.8h-1.8zM795.90 225.83H802.30M799.10 222.63V229.03M796.75 223.48L801.45 228.18M796.75 228.18L801.45 223.48M798.20 224.93h1.8v1.8h-1.8zM798.12 225.80H804.52M801.32 222.60V229.00M798.97 223.45L803.67 228.15M798.97 228.15L803.67 223.45M800.42 224.90h1.8v1.8h-1.8zM800.33 225.97H806.73M803.53 222.77V229.17M801.18 223.62L805.88 228.32M801.18 228.32L805.88 223.62M802.63 225.07h1.8v1.8h-1.8zM802.55 226.48H808.95M805.75 223.28V229.68M803.40 224.13L808.10 228.83M803.40 228.83L808.10 224.13M804.85 225.58h1.8v1.8h-1.8zM804.76 227.85H811.16M807.96 224.65V231.05M805.61 225.50L810.31 230.20M805.61 230.20L810.31 225.50M807.06 226.95h1.8v1.8h-1.8zM806.98 229.03H813.38M810.18 225.83V232.23M807.83 226.68L812.53 231.38M807.83 231.38L812.53 226.68M809.28 228.13h1.8v1.8h-1.8z" stroke="#000" stroke-width="0.8" fill="#000"/>
<g stroke="#000" stroke-width="0.9" fill="none"><circle cx="541.25" cy="229.23" r="3.1"/><circle cx="560.28" cy="229.32" r="3.1"/><circle cx="579.92" cy="229.41" r="3.1"/><circle cx="591.81" cy="229.46" r="3.1"/><circle cx="600.67" cy="229.50" r="3.1"/><circle cx="607.82" cy="229.54" r="3.1"/><circle cx="613.87" cy="229.58" r="3.1"/><circle cx="619.21" cy="229.62" r="3.1"/><circle cx="624.23" cy="229.65" r="3.1"/><circle cx="628.68" cy="229.67" r="3.1"/><circle cx="632.76" cy="229.69" r="3.1"/><circle cx="636.54" cy="229.70" r="3.1"/><circle cx="640.09" cy="229.70" r="3.1"/><circle cx="643.43" cy="229.70" r="3.1"/><circle cx="646.61" cy="229.70" r="3.1"/><circle cx="649.65" cy="229.70" r="3.1"/><circle cx="652.57" cy="229.70" r="3.1"/><circle cx="655.39" cy="229.70" r="3.1"/><circle cx="658.11" cy="229.70" r="3.1"/><circle cx="660.76" cy="229.70" r="3.1"/><circle cx="663.33" cy="229.70" r="3.1"/><circle cx="665.85" cy="229.70" r="3.1"/><circle cx="668.31" cy="229.70" r="3.1"/><circle cx="670.72" cy="229.70" r="3.1"/><circle cx="673.08" cy="229.64" r="3.1"/><circle cx="675.41" cy="229.53" r="3.1"/><circle cx="677.70" cy="229.18" r="3.1"/><circle cx="679.96" cy="228.44" r="3.1"/><circle cx="682.19" cy="227.32" r="3.1"/><circle cx="684.39" cy="225.83" r="3.1"/><circle cx="686.57" cy="224.00" r="3.1"/><circle cx="688.73" cy="221.75" r="3.1"/><circle cx="690.87" cy="219.14" r="3.1"/><circle cx="692.98" cy="216.20" r="3.1"/><circle cx="695.09" cy="212.83" r="3.1"/><circle cx="697.17" cy="209.11" r="3.1"/><circle cx="699.24" cy="204.96" r="3.1"/><circle cx="701.30" cy="200.06" r="3.1"/><circle cx="703.35" cy="194.55" r="3.1"/><circle cx="705.38" cy="184.62" r="3.1"/><circle cx="707.41" cy="174.77" r="3.1"/><circle cx="709.42" cy="165.46" r="3.1"/><circle cx="711.43" cy="156.56" r="3.1"/><circle cx="713.42" cy="147.97" r="3.1"/><circle cx="715.40" cy="139.57" r="3.1"/><circle cx="717.36" cy="131.31" r="3.1"/><circle cx="719.33" cy="123.07" r="3.1"/><circle cx="721.29" cy="114.82" r="3.1"/><circle cx="723.25" cy="106.54" r="3.1"/><circle cx="725.23" cy="98.21" r="3.1"/><circle cx="727.20" cy="89.95" r="3.1"/><circle cx="729.18" cy="81.84" r="3.1"/><circle cx="731.16" cy="73.99" r="3.1"/><circle cx="733.15" cy="66.55" r="3.1"/><circle cx="735.14" cy="59.58" r="3.1"/><circle cx="737.13" cy="53.16" r="3.1"/><circle cx="739.15" cy="47.16" r="3.1"/><circle cx="741.16" cy="42.33" r="3.1"/><circle cx="743.18" cy="39.01" r="3.1"/><circle cx="745.16" cy="37.50" r="3.1"/><circle cx="747.10" cy="37.30" r="3.1"/><circle cx="749.04" cy="38.39" r="3.1"/><circle cx="751.00" cy="41.77" r="3.1"/><circle cx="753.02" cy="47.31" r="3.1"/><circle cx="755.08" cy="55.88" r="3.1"/><circle cx="757.15" cy="66.70" r="3.1"/><circle cx="759.26" cy="82.40" r="3.1"/><circle cx="761.43" cy="103.51" r="3.1"/><circle cx="763.65" cy="133.31" r="3.1"/><circle cx="765.86" cy="178.03" r="3.1"/><circle cx="768.08" cy="212.02" r="3.1"/><circle cx="770.29" cy="224.55" r="3.1"/><circle cx="772.51" cy="226.60" r="3.1"/><circle cx="774.73" cy="226.77" r="3.1"/><circle cx="776.94" cy="226.80" r="3.1"/><circle cx="779.16" cy="226.77" r="3.1"/><circle cx="781.37" cy="226.71" r="3.1"/><circle cx="783.59" cy="226.65" r="3.1"/><circle cx="785.81" cy="226.57" r="3.1"/><circle cx="788.02" cy="226.45" r="3.1"/><circle cx="790.24" cy="226.30" r="3.1"/><circle cx="792.45" cy="226.14" r="3.1"/><circle cx="794.67" cy="226.01" r="3.1"/><circle cx="796.89" cy="225.92" r="3.1"/><circle cx="799.10" cy="225.83" r="3.1"/><circle cx="801.32" cy="225.80" r="3.1"/><circle cx="803.53" cy="225.97" r="3.1"/><circle cx="805.75" cy="226.48" r="3.1"/><circle cx="807.96" cy="227.85" r="3.1"/><circle cx="810.18" cy="229.03" r="3.1"/></g>
<path d="M96.70 327.55V546.35" stroke="#aaa" stroke-width="1.1"/>
<path d="M96.15 328.10H402.05" stroke="#e6e6e6" stroke-width="1.1"/>
<path d="M401.50 327.55V546.35" stroke="#a5a5a5" stroke-width="1.1"/>
<path d="M96.15 545.80H402.05" stroke="#a5a5a5" stroke-width="1.1"/>
<path d="M115.55 545.80v-1.7M126.29 545.80v-1.7M133.90 545.80v-1.7M139.81 545.80v-1.7M144.64 545.80v-1.7M148.72 545.80v-1.7M152.25 545.80v-1.7M155.37 545.80v-1.7M158.16 545.80v-3.0M176.51 545.80v-1.7M187.25 545.80v-1.7M194.86 545.80v-1.7M200.77 545.80v-1.7M205.60 545.80v-1.7M209.68 545.80v-1.7M213.21 545.80v-1.7M216.33 545.80v-1.7M219.12 545.80v-3.0M237.47 545.80v-1.7M248.21 545.80v-1.7M255.82 545.80v-1.7M261.73 545.80v-1.7M266.56 545.80v-1.7M270.64 545.80v-1.7M274.17 545.80v-1.7M277.29 545.80v-1.7M280.08 545.80v-3.0M298.43 545.80v-1.7M309.17 545.80v-1.7M316.78 545.80v-1.7M322.69 545.80v-1.7M327.52 545.80v-1.7M331.60 545.80v-1.7M335.13 545.80v-1.7M338.25 545.80v-1.7M341.04 545.80v-3.0M359.39 545.80v-1.7M370.13 545.80v-1.7M377.74 545.80v-1.7M383.65 545.80v-1.7M388.48 545.80v-1.7M392.56 545.80v-1.7M396.09 545.80v-1.7M399.21 545.80v-1.7M96.70 437.00h3.2M401.50 437.00h-3.2" stroke="#4a4a4a" stroke-width="0.9" fill="none"/>
<path d="M115.55 328.10v1.7M126.29 328.10v1.7M133.90 328.10v1.7M139.81 328.10v1.7M144.64 328.10v1.7M148.72 328.10v1.7M152.25 328.10v1.7M155.37 328.10v1.7M158.16 328.10v3.0M176.51 328.10v1.7M187.25 328.10v1.7M194.86 328.10v1.7M200.77 328.10v1.7M205.60 328.10v1.7M209.68 328.10v1.7M213.21 328.10v1.7M216.33 328.10v1.7M219.12 328.10v3.0M237.47 328.10v1.7M248.21 328.10v1.7M255.82 328.10v1.7M261.73 328.10v1.7M266.56 328.10v1.7M270.64 328.10v1.7M274.17 328.10v1.7M277.29 328.10v1.7M280.08 328.10v3.0M298.43 328.10v1.7M309.17 328.10v1.7M316.78 328.10v1.7M322.69 328.10v1.7M327.52 328.10v1.7M331.60 328.10v1.7M335.13 328.10v1.7M338.25 328.10v1.7M341.04 328.10v3.0M359.39 328.10v1.7M370.13 328.10v1.7M377.74 328.10v1.7M383.65 328.10v1.7M388.48 328.10v1.7M392.56 328.10v1.7M396.09 328.10v1.7M399.21 328.10v1.7" stroke="#808080" stroke-width="0.9" fill="none"/>
<clipPath id="cpc"><rect x="92.70" y="328.10" width="312.80" height="222.70"/></clipPath>
<clipPath id="clc"><rect x="96.70" y="328.10" width="304.80" height="219.20"/></clipPath>
<path d="M96.60 545.70L97.60 545.70L98.61 545.70L99.61 545.69L100.62 545.69L101.62 545.69L102.63 545.69L103.63 545.68L104.63 545.68L105.64 545.68L106.64 545.68L107.65 545.67L108.65 545.67L109.66 545.67L110.66 545.66L111.66 545.66L112.67 545.66L113.67 545.66L114.68 545.65L115.68 545.65L116.69 545.64L117.69 545.64L118.69 545.64L119.70 545.63L120.70 545.63L121.71 545.63L122.71 545.62L123.71 545.62L124.72 545.61L125.72 545.61L126.73 545.61L127.73 545.60L128.74 545.60L129.74 545.59L130.74 545.59L131.75 545.59L132.75 545.58L133.76 545.58L134.76 545.57L135.77 545.57L136.77 545.56L137.77 545.56L138.78 545.55L139.78 545.55L140.79 545.54L141.79 545.54L142.80 545.53L143.80 545.53L144.80 545.53L145.81 545.52L146.81 545.52L147.82 545.51L148.82 545.51L149.83 545.50L150.83 545.50L151.83 545.49L152.84 545.49L153.84 545.48L154.85 545.48L155.85 545.47L156.86 545.47L157.86 545.46L158.86 545.46L159.87 545.45L160.87 545.45L161.88 545.44L162.88 545.44L163.89 545.43L164.89 545.43L165.89 545.42L166.90 545.41L167.90 545.41L168.91 545.40L169.91 545.39L170.92 545.39L171.92 545.38L172.92 545.37L173.93 545.36L174.93 545.35L175.94 545.34L176.94 545.33L177.94 545.32L178.95 545.31L179.95 545.30L180.96 545.29L181.96 545.27L182.97 545.25L183.97 545.23L184.97 545.21L185.98 545.19L186.98 545.16L187.99 545.13L188.99 545.10L190.00 545.06L191.00 545.03L192.01 544.99L193.01 544.95L194.01 544.90L195.02 544.86L196.02 544.81L197.02 544.76L198.02 544.71L199.02 544.65L200.03 544.60L201.03 544.54L202.03 544.46L203.03 544.38L204.04 544.28L205.04 544.17L206.05 544.06L207.05 543.93L208.05 543.79L209.04 543.65L210.03 543.49L211.02 543.32L212.00 543.15L212.97 542.97L213.94 542.73L214.90 542.44L215.84 542.11L216.79 541.75L217.74 541.39L218.69 541.04L219.64 540.71L220.60 540.42L221.56 540.14L222.53 539.87L223.50 539.60L224.46 539.33L225.43 539.07L226.41 538.81L227.38 538.56L228.35 538.30L229.32 538.05L230.29 537.79L231.27 537.54L232.24 537.30L233.21 537.06L234.19 536.82L235.16 536.57L236.14 536.33L237.11 536.07L238.08 535.82L239.05 535.55L240.01 535.28L240.98 535.00L241.95 534.72L242.91 534.43L243.87 534.13L244.82 533.83L245.78 533.51L246.74 533.19L247.70 532.87L248.65 532.53L249.59 532.16L250.51 531.77L251.40 531.35L252.27 530.88L253.14 530.36L253.99 529.79L254.81 529.20L255.61 528.57L256.36 527.92L257.09 527.25L257.80 526.53L258.48 525.77L259.13 524.98L259.73 524.17L260.27 523.34L260.76 522.49L261.22 521.60L261.64 520.68L262.04 519.75L262.42 518.80L262.77 517.86L263.10 516.92L263.42 515.96L263.71 515.00L263.99 514.04L264.26 513.07L264.52 512.10L264.79 511.13L265.07 510.16L265.35 509.19L265.62 508.23L265.89 507.26L266.14 506.29L266.37 505.31L266.57 504.33L266.76 503.34L266.93 502.35L267.09 501.36L267.24 500.37L267.38 499.37L267.52 498.38L267.65 497.38L267.78 496.38L267.90 495.39L268.02 494.39L268.14 493.39L268.25 492.40L268.36 491.40L268.46 490.40L268.56 489.40L268.66 488.40L268.76 487.40L268.85 486.40L268.94 485.40L269.03 484.40L269.12 483.40L269.20 482.40L269.28 481.40L269.37 480.40L269.45 479.40L269.54 478.39L269.63 477.39L269.72 476.39L269.81 475.39L269.90 474.39L269.99 473.39L270.09 472.39L270.18 471.39L270.27 470.39L270.35 469.39L270.44 468.39L270.52 467.39L270.60 466.39L270.68 465.39L270.76 464.39L270.84 463.39L270.92 462.39L271.01 461.39L271.09 460.38L271.18 459.38L271.26 458.38L271.36 457.38L271.46 456.38L271.56 455.39L271.67 454.39L271.78 453.39L271.89 452.39L272.01 451.39L272.12 450.39L272.24 449.40L272.35 448.40L272.46 447.40L272.57 446.40L272.67 445.40L272.77 444.40L272.86 443.40L272.95 442.40L273.02 441.40L273.09 440.40L273.16 439.40L273.23 438.40L273.30 437.40L273.36 436.39L273.42 435.39L273.47 434.39L273.53 433.38L273.58 432.38L273.63 431.38L273.68 430.38L273.73 429.37L273.78 428.37L273.82 427.37L273.87 426.36L273.92 425.36L273.97 424.36L274.01 423.35L274.06 422.35L274.11 421.35L274.15 420.35L274.20 419.34L274.25 418.34L274.29 417.34L274.34 416.33L274.39 415.33L274.43 414.33L274.48 413.32L274.53 412.32L274.57 411.32L274.62 410.32L274.66 409.31L274.71 408.31L274.75 407.31L274.80 406.30L274.84 405.30L274.89 404.30L274.93 403.29L274.97 402.29L275.02 401.29L275.06 400.28L275.11 399.28L275.15 398.28L275.19 397.27L275.24 396.27L275.28 395.27L275.32 394.26L275.36 393.26L275.40 392.26L275.45 391.25L275.49 390.25L275.53 389.25L275.57 388.24L275.61 387.24L275.65 386.24L275.69 385.23L275.73 384.23L275.77 383.23L275.81 382.22L275.84 381.22L275.88 380.22L275.92 379.21L275.96 378.21L276.00 377.21L276.03 376.20L276.07 375.20L276.11 374.19L276.14 373.19L276.18 372.19L276.21 371.18L276.25 370.18L276.28 369.18L276.32 368.17L276.35 367.17L276.38 366.16L276.41 365.16L276.45 364.16L276.48 363.15L276.51 362.15L276.54 361.15L276.57 360.14L276.60 359.14L276.63 358.13L276.66 357.13L276.69 356.13L276.72 355.12L276.75 354.12L276.77 353.11L276.80 352.11L276.83 351.11L276.85 350.10L276.88 349.10L276.90 348.09L276.93 347.09L276.95 346.08L276.97 345.08L277.00 344.08L277.02 343.07L277.04 342.07L277.06 341.06L277.08 340.06L277.10 339.05L277.12 338.05L277.14 337.05L277.16 336.04L277.18 335.04L277.20 334.03L277.21 333.03L277.23 332.02L277.24 331.02L277.26 330.01L277.27 329.01L277.29 328.00L277.30 327.00M320.90 327.00L320.95 328.01L321.00 329.01L321.06 330.02L321.11 331.02L321.16 332.03L321.21 333.03L321.26 334.04L321.31 335.04L321.36 336.05L321.41 337.05L321.46 338.06L321.51 339.06L321.56 340.07L321.62 341.07L321.67 342.08L321.72 343.08L321.77 344.09L321.82 345.09L321.87 346.10L321.92 347.11L321.96 348.11L322.01 349.12L322.06 350.12L322.11 351.13L322.16 352.13L322.21 353.14L322.26 354.14L322.31 355.15L322.36 356.15L322.41 357.16L322.46 358.16L322.50 359.17L322.55 360.17L322.60 361.18L322.65 362.19L322.70 363.19L322.75 364.20L322.79 365.20L322.84 366.21L322.89 367.21L322.94 368.22L322.98 369.22L323.03 370.23L323.08 371.23L323.13 372.24L323.17 373.24L323.22 374.25L323.27 375.26L323.31 376.26L323.36 377.27L323.41 378.27L323.45 379.28L323.50 380.28L323.55 381.29L323.59 382.29L323.64 383.30L323.69 384.30L323.73 385.31L323.78 386.32L323.82 387.32L323.87 388.33L323.92 389.33L323.96 390.34L324.01 391.34L324.05 392.35L324.10 393.35L324.14 394.36L324.19 395.37L324.23 396.37L324.28 397.38L324.32 398.38L324.37 399.39L324.41 400.39L324.46 401.40L324.50 402.40L324.55 403.41L324.59 404.41L324.64 405.42L324.68 406.43L324.72 407.43L324.77 408.44L324.81 409.44L324.86 410.45L324.90 411.45L324.95 412.46L324.99 413.46L325.03 414.47L325.08 415.48L325.12 416.48L325.16 417.49L325.21 418.49L325.25 419.50L325.29 420.50L325.34 421.51L325.38 422.51L325.42 423.52L325.47 424.53L325.51 425.53L325.55 426.54L325.60 427.54L325.64 428.55L325.68 429.55L325.72 430.56L325.77 431.57L325.81 432.57L325.85 433.58L325.89 434.58L325.93 435.59L325.97 436.59L326.01 437.60L326.05 438.61L326.09 439.61L326.13 440.62L326.17 441.62L326.21 442.63L326.25 443.63L326.29 444.64L326.33 445.65L326.37 446.65L326.40 447.66L326.44 448.66L326.48 449.67L326.52 450.67L326.56 451.68L326.60 452.69L326.64 453.69L326.68 454.70L326.72 455.70L326.76 456.71L326.80 457.71L326.84 458.72L326.88 459.73L326.92 460.73L326.96 461.74L327.00 462.74L327.04 463.75L327.09 464.75L327.13 465.76L327.17 466.77L327.21 467.77L327.25 468.78L327.30 469.78L327.34 470.79L327.38 471.79L327.42 472.80L327.46 473.81L327.50 474.81L327.54 475.82L327.58 476.82L327.62 477.83L327.66 478.84L327.71 479.84L327.75 480.85L327.79 481.85L327.83 482.86L327.88 483.86L327.92 484.87L327.97 485.88L328.01 486.88L328.06 487.89L328.10 488.89L328.15 489.90L328.20 490.90L328.25 491.91L328.30 492.91L328.35 493.92L328.40 494.92L328.45 495.93L328.51 496.93L328.56 497.94L328.62 498.94L328.68 499.95L328.74 500.95L328.80 501.96L328.86 502.96L328.92 503.97L328.99 504.97L329.05 505.98L329.12 506.98L329.19 507.99L329.26 508.99L329.33 510.00L329.40 511.00L329.47 512.01L329.55 513.01L329.63 514.02L329.71 515.02L329.79 516.03L329.87 517.03L329.96 518.03L330.05 519.04L330.14 520.04L330.23 521.04L330.33 522.04L330.42 523.04L330.53 524.04L330.63 525.04L330.74 526.04L330.85 527.04L330.96 528.04L331.07 529.04L331.19 530.04L331.31 531.05L331.44 532.06L331.57 533.07L331.71 534.07L331.86 535.08L332.02 536.09L332.19 537.08L332.38 538.08L332.58 539.06L332.79 540.04L333.02 541.00L333.27 541.95L333.56 542.93L333.93 544.01L334.41 544.93L335.03 545.41L336.02 545.69L337.08 545.80L338.07 545.80L339.07 545.80L340.06 545.80L341.05 545.80L342.04 545.80L343.04 545.80L344.03 545.80L345.03 545.80L346.02 545.80L347.02 545.80L348.02 545.80L349.02 545.80L350.02 545.80L351.02 545.80L352.02 545.80L353.03 545.80L354.03 545.80L355.04 545.80L356.04 545.80L357.05 545.80L358.06 545.80L359.07 545.80L360.09 545.80L361.10 545.80L362.12 545.80L363.13 545.80L364.15 545.80L365.17 545.80L366.19 545.80L367.22 545.80L368.24 545.80L369.27 545.80L370.30 545.80" clip-path="url(#clc)" stroke="#111" stroke-width="0.95" fill="none" stroke-linejoin="round"/>
<path d="M99.82 545.69H106.22M103.02 542.49V548.89M100.67 543.34L105.37 548.04M100.67 548.04L105.37 543.34M102.12 544.79h1.8v1.8h-1.8zM118.77 545.62H125.17M121.97 542.42V548.82M119.62 543.27L124.32 547.97M119.62 547.97L124.32 543.27M121.07 544.72h1.8v1.8h-1.8zM138.32 545.54H144.72M141.52 542.34V548.74M139.17 543.19L143.87 547.89M139.17 547.89L143.87 543.19M140.62 544.64h1.8v1.8h-1.8zM150.15 545.48H156.55M153.35 542.28V548.68M151.00 543.13L155.70 547.83M151.00 547.83L155.70 543.13M152.45 544.58h1.8v1.8h-1.8zM158.97 545.44H165.37M162.17 542.24V548.64M159.82 543.09L164.52 547.79M159.82 547.79L164.52 543.09M161.27 544.54h1.8v1.8h-1.8zM166.09 545.40H172.49M169.29 542.20V548.60M166.94 543.05L171.64 547.75M166.94 547.75L171.64 543.05M168.39 544.50h1.8v1.8h-1.8zM172.11 545.35H178.51M175.31 542.15V548.55M172.96 543.00L177.66 547.70M172.96 547.70L177.66 543.00M174.41 544.45h1.8v1.8h-1.8zM177.42 545.29H183.82M180.62 542.09V548.49M178.27 542.94L182.97 547.64M178.27 547.64L182.97 542.94M179.72 544.39h1.8v1.8h-1.8zM182.42 545.20H188.82M185.62 542.00V548.40M183.27 542.85L187.97 547.55M183.27 547.55L187.97 542.85M184.72 544.30h1.8v1.8h-1.8zM186.85 545.06H193.25M190.05 541.86V548.26M187.70 542.71L192.40 547.41M187.70 547.41L192.40 542.71M189.15 544.16h1.8v1.8h-1.8zM190.91 544.90H197.31M194.11 541.70V548.10M191.76 542.55L196.46 547.25M191.76 547.25L196.46 542.55M193.21 544.00h1.8v1.8h-1.8zM194.68 544.72H201.08M197.88 541.52V547.92M195.53 542.37L200.23 547.07M195.53 547.07L200.23 542.37M196.98 543.82h1.8v1.8h-1.8zM198.20 544.51H204.60M201.40 541.31V547.71M199.05 542.16L203.75 546.86M199.05 546.86L203.75 542.16M200.50 543.61h1.8v1.8h-1.8zM201.54 544.22H207.94M204.74 541.02V547.42M202.39 541.87L207.09 546.57M202.39 546.57L207.09 541.87M203.84 543.32h1.8v1.8h-1.8zM204.70 543.83H211.10M207.90 540.63V547.03M205.55 541.48L210.25 546.18M205.55 546.18L210.25 541.48M207.00 542.93h1.8v1.8h-1.8zM207.73 543.35H214.13M210.93 540.15V546.55M208.58 541.00L213.28 545.70M208.58 545.70L213.28 541.00M210.03 542.45h1.8v1.8h-1.8zM210.63 542.74H217.03M213.83 539.54V545.94M211.48 540.39L216.18 545.09M211.48 545.09L216.18 540.39M212.93 541.84h1.8v1.8h-1.8zM213.44 541.66H219.84M216.64 538.46V544.86M214.29 539.31L218.99 544.01M214.29 544.01L218.99 539.31M215.74 540.76h1.8v1.8h-1.8zM216.15 540.45H222.55M219.35 537.25V543.65M217.00 538.10L221.70 542.80M217.00 542.80L221.70 538.10M218.45 539.55h1.8v1.8h-1.8zM218.78 539.26H225.18M221.98 536.06V542.46M219.63 536.91L224.33 541.61M219.63 541.61L224.33 536.91M221.08 538.36h1.8v1.8h-1.8zM221.35 538.00H227.75M224.55 534.80V541.20M222.20 535.65L226.90 540.35M222.20 540.35L226.90 535.65M223.65 537.10h1.8v1.8h-1.8zM223.85 536.68H230.25M227.05 533.48V539.88M224.70 534.33L229.40 539.03M224.70 539.03L229.40 534.33M226.15 535.78h1.8v1.8h-1.8zM226.30 535.29H232.70M229.50 532.09V538.49M227.15 532.94L231.85 537.64M227.15 537.64L231.85 532.94M228.60 534.39h1.8v1.8h-1.8zM228.70 533.87H235.10M231.90 530.67V537.07M229.55 531.52L234.25 536.22M229.55 536.22L234.25 531.52M231.00 532.97h1.8v1.8h-1.8zM231.05 532.41H237.45M234.25 529.21V535.61M231.90 530.06L236.60 534.76M231.90 534.76L236.60 530.06M233.35 531.51h1.8v1.8h-1.8zM233.37 530.95H239.77M236.57 527.75V534.15M234.22 528.60L238.92 533.30M234.22 533.30L238.92 528.60M235.67 530.05h1.8v1.8h-1.8zM235.65 529.47H242.05M238.85 526.27V532.67M236.50 527.12L241.20 531.82M236.50 531.82L241.20 527.12M237.95 528.57h1.8v1.8h-1.8zM237.90 527.98H244.30M241.10 524.78V531.18M238.75 525.63L243.45 530.33M238.75 530.33L243.45 525.63M240.20 527.08h1.8v1.8h-1.8zM240.12 526.46H246.52M243.32 523.26V529.66M240.97 524.11L245.67 528.81M240.97 528.81L245.67 524.11M242.42 525.56h1.8v1.8h-1.8zM242.31 524.92H248.71M245.51 521.72V528.12M243.16 522.57L247.86 527.27M243.16 527.27L247.86 522.57M244.61 524.02h1.8v1.8h-1.8zM244.48 523.37H250.88M247.68 520.17V526.57M245.33 521.02L250.03 525.72M245.33 525.72L250.03 521.02M246.78 522.47h1.8v1.8h-1.8zM246.63 521.79H253.03M249.83 518.59V524.99M247.48 519.44L252.18 524.14M247.48 524.14L252.18 519.44M248.93 520.89h1.8v1.8h-1.8zM248.75 520.21H255.15M251.95 517.01V523.41M249.60 517.86L254.30 522.56M249.60 522.56L254.30 517.86M251.05 519.31h1.8v1.8h-1.8zM250.86 518.63H257.26M254.06 515.43V521.83M251.71 516.28L256.41 520.98M251.71 520.98L256.41 516.28M253.16 517.73h1.8v1.8h-1.8zM252.95 516.99H259.35M256.15 513.79V520.19M253.80 514.64L258.50 519.34M253.80 519.34L258.50 514.64M255.25 516.09h1.8v1.8h-1.8zM255.03 515.22H261.43M258.23 512.02V518.42M255.88 512.87L260.58 517.57M255.88 517.57L260.58 512.87M257.33 514.32h1.8v1.8h-1.8zM257.09 513.25H263.49M260.29 510.05V516.45M257.94 510.90L262.64 515.60M257.94 515.60L262.64 510.90M259.39 512.35h1.8v1.8h-1.8zM259.14 511.15H265.54M262.34 507.95V514.35M259.99 508.80L264.69 513.50M259.99 513.50L264.69 508.80M261.44 510.25h1.8v1.8h-1.8zM261.18 509.01H267.58M264.38 505.81V512.21M262.03 506.66L266.73 511.36M262.03 511.36L266.73 506.66M263.48 508.11h1.8v1.8h-1.8zM263.20 506.82H269.60M266.40 503.62V510.02M264.05 504.47L268.75 509.17M264.05 509.17L268.75 504.47M265.50 505.92h1.8v1.8h-1.8zM265.22 504.56H271.62M268.42 501.36V507.76M266.07 502.21L270.77 506.91M266.07 506.91L270.77 502.21M267.52 503.66h1.8v1.8h-1.8zM267.22 502.30H273.62M270.42 499.10V505.50M268.07 499.95L272.77 504.65M268.07 504.65L272.77 499.95M269.52 501.40h1.8v1.8h-1.8zM269.22 500.15H275.62M272.42 496.95V503.35M270.07 497.80L274.77 502.50M270.07 502.50L274.77 497.80M271.52 499.25h1.8v1.8h-1.8zM271.20 497.87H277.60M274.40 494.67V501.07M272.05 495.52L276.75 500.22M272.05 500.22L276.75 495.52M273.50 496.97h1.8v1.8h-1.8zM273.17 494.78H279.57M276.37 491.58V497.98M274.02 492.43L278.72 497.13M274.02 497.13L278.72 492.43M275.47 493.88h1.8v1.8h-1.8zM275.13 490.88H281.53M278.33 487.68V494.08M275.98 488.53L280.68 493.23M275.98 493.23L280.68 488.53M277.43 489.98h1.8v1.8h-1.8zM277.08 485.48H283.48M280.28 482.28V488.68M277.93 483.13L282.63 487.83M277.93 487.83L282.63 483.13M279.38 484.58h1.8v1.8h-1.8zM279.04 478.00H285.44M282.24 474.80V481.20M279.89 475.65L284.59 480.35M279.89 480.35L284.59 475.65M281.34 477.10h1.8v1.8h-1.8zM280.99 469.94H287.39M284.19 466.74V473.14M281.84 467.59L286.54 472.29M281.84 472.29L286.54 467.59M283.29 469.04h1.8v1.8h-1.8zM282.96 460.89H289.36M286.16 457.69V464.09M283.81 458.54L288.51 463.24M283.81 463.24L288.51 458.54M285.26 459.99h1.8v1.8h-1.8zM284.92 450.60H291.32M288.12 447.40V453.80M285.77 448.25L290.47 452.95M285.77 452.95L290.47 448.25M287.22 449.70h1.8v1.8h-1.8zM286.89 440.29H293.29M290.09 437.09V443.49M287.74 437.94L292.44 442.64M287.74 442.64L292.44 437.94M289.19 439.39h1.8v1.8h-1.8zM288.86 430.09H295.26M292.06 426.89V433.29M289.71 427.74L294.41 432.44M289.71 432.44L294.41 427.74M291.16 429.19h1.8v1.8h-1.8zM290.84 420.25H297.24M294.04 417.05V423.45M291.69 417.90L296.39 422.60M291.69 422.60L296.39 417.90M293.14 419.35h1.8v1.8h-1.8zM292.82 410.85H299.22M296.02 407.65V414.05M293.67 408.50L298.37 413.20M293.67 413.20L298.37 408.50M295.12 409.95h1.8v1.8h-1.8zM294.81 401.98H301.21M298.01 398.78V405.18M295.66 399.63L300.36 404.33M295.66 404.33L300.36 399.63M297.11 401.08h1.8v1.8h-1.8zM296.81 393.57H303.21M300.01 390.37V396.77M297.66 391.22L302.36 395.92M297.66 395.92L302.36 391.22M299.11 392.67h1.8v1.8h-1.8zM298.82 385.68H305.22M302.02 382.48V388.88M299.67 383.33L304.37 388.03M299.67 388.03L304.37 383.33M301.12 384.78h1.8v1.8h-1.8zM300.82 378.28H307.22M304.02 375.08V381.48M301.67 375.93L306.37 380.63M301.67 380.63L306.37 375.93M303.12 377.38h1.8v1.8h-1.8zM302.83 371.29H309.23M306.03 368.09V374.49M303.68 368.94L308.38 373.64M303.68 373.64L308.38 368.94M305.13 370.39h1.8v1.8h-1.8zM304.83 364.93H311.23M308.03 361.73V368.13M305.68 362.58L310.38 367.28M305.68 367.28L310.38 362.58M307.13 364.03h1.8v1.8h-1.8zM306.97 360.46H313.37M310.17 357.26V363.66M307.82 358.11L312.52 362.81M307.82 362.81L312.52 358.11M309.27 359.56h1.8v1.8h-1.8zM309.13 359.11H315.53M312.33 355.91V362.31M309.98 356.76L314.68 361.46M309.98 361.46L314.68 356.76M311.43 358.21h1.8v1.8h-1.8zM311.32 360.82H317.72M314.52 357.62V364.02M312.17 358.47L316.87 363.17M312.17 363.17L316.87 358.47M313.62 359.92h1.8v1.8h-1.8zM313.38 366.04H319.78M316.58 362.84V369.24M314.23 363.69L318.93 368.39M314.23 368.39L318.93 363.69M315.68 365.14h1.8v1.8h-1.8zM315.43 374.08H321.83M318.63 370.88V377.28M316.28 371.73L320.98 376.43M316.28 376.43L320.98 371.73M317.73 373.18h1.8v1.8h-1.8zM317.54 386.55H323.94M320.74 383.35V389.75M318.39 384.20L323.09 388.90M318.39 388.90L323.09 384.20M319.84 385.65h1.8v1.8h-1.8zM319.69 405.92H326.09M322.89 402.72V409.12M320.54 403.57L325.24 408.27M320.54 408.27L325.24 403.57M321.99 405.02h1.8v1.8h-1.8zM321.90 433.98H328.30M325.10 430.78V437.18M322.75 431.63L327.45 436.33M322.75 436.33L327.45 431.63M324.20 433.08h1.8v1.8h-1.8zM324.10 469.48H330.50M327.30 466.28V472.68M324.95 467.13L329.65 471.83M324.95 471.83L329.65 467.13M326.40 468.58h1.8v1.8h-1.8zM326.31 501.66H332.71M329.51 498.46V504.86M327.16 499.31L331.86 504.01M327.16 504.01L331.86 499.31M328.61 500.76h1.8v1.8h-1.8zM328.52 525.15H334.92M331.72 521.95V528.35M329.37 522.80L334.07 527.50M329.37 527.50L334.07 522.80M330.82 524.25h1.8v1.8h-1.8zM330.72 542.30H337.12M333.92 539.10V545.50M331.57 539.95L336.27 544.65M331.57 544.65L336.27 539.95M333.02 541.40h1.8v1.8h-1.8zM332.93 543.72H339.33M336.13 540.52V546.92M333.78 541.37L338.48 546.07M333.78 546.07L338.48 541.37M335.23 542.82h1.8v1.8h-1.8zM335.13 543.90H341.53M338.33 540.70V547.10M335.98 541.55L340.68 546.25M335.98 546.25L340.68 541.55M337.43 543.00h1.8v1.8h-1.8zM337.34 543.86H343.74M340.54 540.66V547.06M338.19 541.51L342.89 546.21M338.19 546.21L342.89 541.51M339.64 542.96h1.8v1.8h-1.8zM339.55 543.79H345.94M342.75 540.59V546.99M340.39 541.44L345.10 546.14M340.39 546.14L345.10 541.44M341.85 542.89h1.8v1.8h-1.8zM341.75 543.70H348.15M344.95 540.50V546.90M342.60 541.35L347.30 546.05M342.60 546.05L347.30 541.35M344.05 542.80h1.8v1.8h-1.8zM343.96 543.61H350.36M347.16 540.41V546.81M344.81 541.26L349.51 545.96M344.81 545.96L349.51 541.26M346.26 542.71h1.8v1.8h-1.8zM346.16 543.49H352.56M349.36 540.29V546.69M347.01 541.14L351.71 545.84M347.01 545.84L351.71 541.14M348.46 542.59h1.8v1.8h-1.8zM348.37 543.37H354.77M351.57 540.17V546.57M349.22 541.02L353.92 545.72M349.22 545.72L353.92 541.02M350.67 542.47h1.8v1.8h-1.8zM350.57 543.25H356.97M353.77 540.05V546.45M351.42 540.90L356.12 545.60M351.42 545.60L356.12 540.90M352.87 542.35h1.8v1.8h-1.8zM352.78 543.16H359.18M355.98 539.96V546.36M353.63 540.81L358.33 545.51M353.63 545.51L358.33 540.81M355.08 542.26h1.8v1.8h-1.8zM354.99 543.06H361.39M358.19 539.86V546.26M355.84 540.71L360.54 545.41M355.84 545.41L360.54 540.71M357.29 542.16h1.8v1.8h-1.8zM357.19 543.00H363.59M360.39 539.80V546.20M358.04 540.65L362.74 545.35M358.04 545.35L362.74 540.65M359.49 542.10h1.8v1.8h-1.8zM359.40 543.07H365.80M362.60 539.87V546.27M360.25 540.72L364.95 545.42M360.25 545.42L364.95 540.72M361.70 542.17h1.8v1.8h-1.8zM361.60 543.37H368.00M364.80 540.17V546.57M362.45 541.02L367.15 545.72M362.45 545.72L367.15 541.02M363.90 542.47h1.8v1.8h-1.8zM363.81 544.34H370.21M367.01 541.14V547.54M364.66 541.99L369.36 546.69M364.66 546.69L369.36 541.99M366.11 543.44h1.8v1.8h-1.8zM366.01 545.41H372.41M369.21 542.21V548.61M366.86 543.06L371.56 547.76M366.86 547.76L371.56 543.06M368.31 544.51h1.8v1.8h-1.8z" stroke="#000" stroke-width="0.8" fill="#000"/>
<g stroke="#000" stroke-width="0.9" fill="none"><circle cx="103.02" cy="545.70" r="3.1"/><circle cx="121.97" cy="545.70" r="3.1"/><circle cx="141.52" cy="545.70" r="3.1"/><circle cx="153.35" cy="545.70" r="3.1"/><circle cx="162.17" cy="545.70" r="3.1"/><circle cx="169.29" cy="545.67" r="3.1"/><circle cx="175.31" cy="545.62" r="3.1"/><circle cx="180.62" cy="545.56" r="3.1"/><circle cx="185.62" cy="545.49" r="3.1"/><circle cx="190.05" cy="545.36" r="3.1"/><circle cx="194.11" cy="545.17" r="3.1"/><circle cx="197.88" cy="544.94" r="3.1"/><circle cx="201.40" cy="544.68" r="3.1"/><circle cx="204.74" cy="544.26" r="3.1"/><circle cx="207.90" cy="543.78" r="3.1"/><circle cx="210.93" cy="543.34" r="3.1"/><circle cx="213.83" cy="542.97" r="3.1"/><circle cx="216.64" cy="542.60" r="3.1"/><circle cx="219.35" cy="542.30" r="3.1"/><circle cx="221.98" cy="542.10" r="3.1"/><circle cx="224.55" cy="541.98" r="3.1"/><circle cx="227.05" cy="541.89" r="3.1"/><circle cx="229.50" cy="541.82" r="3.1"/><circle cx="231.90" cy="541.80" r="3.1"/><circle cx="234.25" cy="541.89" r="3.1"/><circle cx="236.57" cy="542.13" r="3.1"/><circle cx="238.85" cy="542.44" r="3.1"/><circle cx="241.10" cy="542.77" r="3.1"/><circle cx="243.32" cy="543.25" r="3.1"/><circle cx="245.51" cy="543.80" r="3.1"/><circle cx="247.68" cy="544.35" r="3.1"/><circle cx="249.83" cy="544.82" r="3.1"/><circle cx="251.95" cy="545.21" r="3.1"/><circle cx="254.06" cy="545.49" r="3.1"/><circle cx="256.15" cy="545.33" r="3.1"/><circle cx="258.23" cy="544.62" r="3.1"/><circle cx="260.29" cy="542.52" r="3.1"/><circle cx="262.34" cy="539.23" r="3.1"/><circle cx="264.38" cy="534.20" r="3.1"/><circle cx="266.40" cy="528.46" r="3.1"/><circle cx="268.42" cy="523.36" r="3.1"/><circle cx="270.42" cy="517.73" r="3.1"/><circle cx="272.42" cy="511.65" r="3.1"/><circle cx="274.40" cy="505.08" r="3.1"/><circle cx="276.37" cy="497.92" r="3.1"/><circle cx="278.33" cy="490.16" r="3.1"/><circle cx="280.28" cy="481.73" r="3.1"/><circle cx="282.24" cy="472.61" r="3.1"/><circle cx="284.19" cy="462.92" r="3.1"/><circle cx="286.16" cy="452.77" r="3.1"/><circle cx="288.12" cy="442.46" r="3.1"/><circle cx="290.09" cy="432.26" r="3.1"/><circle cx="292.06" cy="422.33" r="3.1"/><circle cx="294.04" cy="412.86" r="3.1"/><circle cx="296.02" cy="403.88" r="3.1"/><circle cx="298.01" cy="395.43" r="3.1"/><circle cx="300.01" cy="387.43" r="3.1"/><circle cx="302.02" cy="379.92" r="3.1"/><circle cx="304.02" cy="372.83" r="3.1"/><circle cx="306.03" cy="366.53" r="3.1"/><circle cx="308.03" cy="362.27" r="3.1"/><circle cx="310.17" cy="359.92" r="3.1"/><circle cx="312.33" cy="359.13" r="3.1"/><circle cx="314.52" cy="361.10" r="3.1"/><circle cx="316.58" cy="366.31" r="3.1"/><circle cx="318.63" cy="374.08" r="3.1"/><circle cx="320.74" cy="387.23" r="3.1"/><circle cx="322.89" cy="407.32" r="3.1"/><circle cx="325.10" cy="438.58" r="3.1"/><circle cx="327.30" cy="479.99" r="3.1"/><circle cx="329.51" cy="509.12" r="3.1"/><circle cx="331.72" cy="532.41" r="3.1"/><circle cx="333.92" cy="542.25" r="3.1"/><circle cx="336.13" cy="543.72" r="3.1"/><circle cx="338.33" cy="543.90" r="3.1"/><circle cx="340.54" cy="543.86" r="3.1"/><circle cx="342.75" cy="543.79" r="3.1"/><circle cx="344.95" cy="543.70" r="3.1"/><circle cx="347.16" cy="543.61" r="3.1"/><circle cx="349.36" cy="543.49" r="3.1"/><circle cx="351.57" cy="543.37" r="3.1"/><circle cx="353.77" cy="543.25" r="3.1"/><circle cx="355.98" cy="543.16" r="3.1"/><circle cx="358.19" cy="543.06" r="3.1"/><circle cx="360.39" cy="543.00" r="3.1"/><circle cx="362.60" cy="543.07" r="3.1"/><circle cx="364.80" cy="543.37" r="3.1"/><circle cx="367.01" cy="544.34" r="3.1"/><circle cx="369.21" cy="545.41" r="3.1"/></g>
<path d="M535.20 327.75V546.35" stroke="#999" stroke-width="1.1"/>
<path d="M534.65 328.30H840.25" stroke="#e2e2e2" stroke-width="1.1"/>
<path d="M839.70 327.75V546.35" stroke="#d8d8d8" stroke-width="1.1"/>
<path d="M534.65 545.80H840.25" stroke="#8a8a8a" stroke-width="1.1"/>
<path d="M554.03 545.80v-1.7M564.76 545.80v-1.7M572.37 545.80v-1.7M578.27 545.80v-1.7M583.09 545.80v-1.7M587.17 545.80v-1.7M590.70 545.80v-1.7M593.81 545.80v-1.7M596.60 545.80v-3.0M614.93 545.80v-1.7M625.66 545.80v-1.7M633.27 545.80v-1.7M639.17 545.80v-1.7M643.99 545.80v-1.7M648.07 545.80v-1.7M651.60 545.80v-1.7M654.71 545.80v-1.7M657.50 545.80v-3.0M675.83 545.80v-1.7M686.56 545.80v-1.7M694.17 545.80v-1.7M700.07 545.80v-1.7M704.89 545.80v-1.7M708.97 545.80v-1.7M712.50 545.80v-1.7M715.61 545.80v-1.7M718.40 545.80v-3.0M736.73 545.80v-1.7M747.46 545.80v-1.7M755.07 545.80v-1.7M760.97 545.80v-1.7M765.79 545.80v-1.7M769.87 545.80v-1.7M773.40 545.80v-1.7M776.51 545.80v-1.7M779.30 545.80v-3.0M797.63 545.80v-1.7M808.36 545.80v-1.7M815.97 545.80v-1.7M821.87 545.80v-1.7M826.69 545.80v-1.7M830.77 545.80v-1.7M834.30 545.80v-1.7M837.41 545.80v-1.7M535.20 377.80h3.2M839.70 377.80h-3.2M535.20 461.80h3.2M839.70 461.80h-3.2" stroke="#4a4a4a" stroke-width="0.9" fill="none"/>
<path d="M554.03 328.30v1.7M564.76 328.30v1.7M572.37 328.30v1.7M578.27 328.30v1.7M583.09 328.30v1.7M587.17 328.30v1.7M590.70 328.30v1.7M593.81 328.30v1.7M596.60 328.30v3.0M614.93 328.30v1.7M625.66 328.30v1.7M633.27 328.30v1.7M639.17 328.30v1.7M643.99 328.30v1.7M648.07 328.30v1.7M651.60 328.30v1.7M654.71 328.30v1.7M657.50 328.30v3.0M675.83 328.30v1.7M686.56 328.30v1.7M694.17 328.30v1.7M700.07 328.30v1.7M704.89 328.30v1.7M708.97 328.30v1.7M712.50 328.30v1.7M715.61 328.30v1.7M718.40 328.30v3.0M736.73 328.30v1.7M747.46 328.30v1.7M755.07 328.30v1.7M760.97 328.30v1.7M765.79 328.30v1.7M769.87 328.30v1.7M773.40 328.30v1.7M776.51 328.30v1.7M779.30 328.30v3.0M797.63 328.30v1.7M808.36 328.30v1.7M815.97 328.30v1.7M821.87 328.30v1.7M826.69 328.30v1.7M830.77 328.30v1.7M834.30 328.30v1.7M837.41 328.30v1.7" stroke="#808080" stroke-width="0.9" fill="none"/>
<clipPath id="cpd"><rect x="531.20" y="328.30" width="312.50" height="222.50"/></clipPath>
<clipPath id="cld"><rect x="535.20" y="328.30" width="304.50" height="219.00"/></clipPath>
<path d="M656.00 546.00L657.01 546.00L658.03 546.00L659.04 546.00L660.05 546.00L661.05 546.00L662.06 546.00L663.07 546.00L664.07 546.00L665.08 546.00L666.08 546.00L667.09 546.00L668.09 546.00L669.09 546.00L670.09 546.00L671.09 546.00L672.09 546.00L673.09 546.00L674.09 546.00L675.08 546.00L676.08 546.00L677.08 546.00L678.07 546.00L679.07 546.00L680.06 546.00L681.10 545.96L682.19 545.85L683.26 545.68L684.25 545.46L685.11 545.21L685.80 544.86L686.40 544.20L686.93 543.29L687.43 542.27L687.89 541.25L688.34 540.32L688.77 539.42L689.19 538.51L689.58 537.59L689.96 536.65L690.33 535.72L690.68 534.78L691.03 533.84L691.38 532.90L691.71 531.95L692.03 531.00L692.34 530.05L692.65 529.09L692.96 528.14L693.26 527.18L693.56 526.23L693.86 525.27L694.16 524.31L694.45 523.35L694.75 522.39L695.03 521.43L695.32 520.47L695.60 519.51L695.87 518.54L696.14 517.58L696.40 516.61L696.66 515.64L696.91 514.67L697.16 513.70L697.40 512.73L697.64 511.76L697.87 510.78L698.11 509.81L698.34 508.83L698.58 507.85L698.81 506.88L699.05 505.91L699.28 504.93L699.52 503.96L699.75 502.98L699.98 502.01L700.22 501.03L700.45 500.06L700.68 499.08L700.91 498.10L701.14 497.13L701.37 496.15L701.59 495.18L701.82 494.20L702.05 493.22L702.28 492.25L702.50 491.27L702.72 490.29L702.95 489.31L703.17 488.34L703.39 487.36L703.62 486.38L703.84 485.41L704.07 484.43L704.30 483.45L704.53 482.48L704.76 481.50L704.99 480.53L705.22 479.55L705.45 478.57L705.68 477.60L705.92 476.62L706.15 475.65L706.39 474.67L706.63 473.70L706.88 472.73L707.13 471.76L707.39 470.79L707.66 469.83L707.94 468.86L708.22 467.90L708.51 466.94L708.79 465.98L709.07 465.01L709.33 464.05L709.59 463.08L709.83 462.11L710.08 461.13L710.31 460.16L710.55 459.19L710.78 458.21L711.02 457.24L711.26 456.26L711.50 455.29L711.74 454.32L711.98 453.34L712.22 452.37L712.46 451.40L712.70 450.42L712.93 449.45L713.16 448.47L713.39 447.50L713.62 446.52L713.85 445.54L714.07 444.57L714.29 443.59L714.52 442.61L714.74 441.63L714.96 440.66L715.18 439.68L715.40 438.70L715.62 437.72L715.84 436.74L716.06 435.77L716.29 434.79L716.51 433.81L716.73 432.83L716.95 431.85L717.17 430.88L717.39 429.90L717.61 428.92L717.83 427.94L718.04 426.96L718.26 425.98L718.48 425.00L718.69 424.03L718.91 423.05L719.13 422.07L719.35 421.09L719.57 420.11L719.80 419.14L720.03 418.16L720.26 417.19L720.49 416.21L720.73 415.24L720.96 414.26L721.20 413.29L721.43 412.31L721.67 411.34L721.90 410.36L722.14 409.39L722.37 408.41L722.60 407.44L722.84 406.46L723.08 405.49L723.32 404.52L723.56 403.54L723.81 402.57L724.06 401.60L724.31 400.63L724.56 399.66L724.82 398.69L725.08 397.72L725.35 396.76L725.62 395.79L725.90 394.83L726.19 393.87L726.49 392.91L726.79 391.96L727.11 391.00L727.43 390.05L727.76 389.11L728.09 388.16L728.44 387.22L728.79 386.28L729.15 385.35L729.52 384.41L729.90 383.48L730.30 382.56L730.70 381.64L731.12 380.74L731.56 379.84L732.02 378.94L732.49 378.05L732.98 377.18L733.49 376.31L734.01 375.46L734.54 374.60L735.10 373.74L735.69 372.93L736.33 372.18L737.04 371.49L737.83 370.83L738.67 370.27L739.56 369.84L740.53 369.45L741.51 369.22L742.42 369.33L743.33 369.85L744.15 370.56L744.82 371.24L745.41 372.01L745.95 372.87L746.44 373.78L746.90 374.71L747.33 375.64L747.73 376.55L748.09 377.47L748.44 378.41L748.76 379.36L749.08 380.32L749.39 381.28L749.70 382.24L750.02 383.19L750.35 384.14L750.70 385.08L751.05 386.02L751.41 386.96L751.77 387.89L752.13 388.83L752.48 389.77L752.81 390.72L753.13 391.66L753.44 392.62L753.72 393.58L753.98 394.54L754.24 395.51L754.48 396.48L754.72 397.46L754.96 398.43L755.20 399.41L755.44 400.38L755.69 401.35L755.95 402.32L756.22 403.29L756.50 404.25L756.78 405.21L757.07 406.17L757.36 407.13L757.64 408.09L757.92 409.06L758.17 410.05L758.40 411.08L758.61 412.14L758.81 413.22L759.00 414.30L759.21 415.37L759.42 416.41L759.65 417.42L759.92 418.38L760.22 419.28L760.56 420.10L760.96 420.84L761.50 421.51L762.48 422.14L763.19 422.27L763.69 421.87L764.11 421.10L764.49 420.07L764.82 418.89L765.14 417.66L765.45 416.48L765.78 415.48L766.08 414.51L766.35 413.53L766.61 412.55L766.86 411.55L767.12 410.57L767.40 409.60L767.70 408.66L768.05 407.75L768.47 406.86L769.02 405.82L769.67 404.82L770.33 404.10L770.94 403.92L771.57 404.35L772.20 405.20L772.79 406.26L773.28 407.35L773.64 408.28L773.93 409.20L774.20 410.15L774.43 411.12L774.65 412.10L774.84 413.10L775.03 414.11L775.20 415.12L775.38 416.12L775.56 417.12L775.74 418.11L775.92 419.10L776.10 420.08L776.27 421.07L776.44 422.06L776.60 423.05L776.76 424.04L776.92 425.03L777.07 426.02L777.23 427.01L777.39 428.00L777.54 428.99L777.70 429.98L777.86 430.97L778.03 431.96L778.19 432.95L778.36 433.94L778.53 434.92L778.70 435.91L778.87 436.90L779.04 437.89L779.21 438.88L779.38 439.87L779.54 440.86L779.69 441.85L779.85 442.84L779.99 443.83L780.13 444.82L780.26 445.81L780.39 446.81L780.51 447.80L780.62 448.80L780.73 449.80L780.84 450.79L780.95 451.79L781.06 452.79L781.17 453.78L781.28 454.78L781.39 455.78L781.51 456.77L781.62 457.77L781.75 458.76L781.88 459.76L782.02 460.75L782.17 461.74L782.33 462.73L782.50 463.72L782.67 464.71L782.84 465.70L783.01 466.69L783.18 467.67L783.34 468.66L783.50 469.65L783.64 470.65L783.78 471.64L783.90 472.63L784.03 473.62L784.15 474.62L784.26 475.61L784.37 476.61L784.48 477.61L784.59 478.60L784.69 479.60L784.80 480.60L784.90 481.59L785.00 482.59L785.09 483.59L785.19 484.59L785.29 485.59L785.38 486.59L785.47 487.59L785.57 488.58L785.66 489.58L785.75 490.58L785.84 491.58L785.94 492.58L786.03 493.58L786.13 494.58L786.22 495.57L786.32 496.57L786.41 497.57L786.51 498.57L786.60 499.57L786.69 500.56L786.78 501.56L786.87 502.56L786.96 503.56L787.05 504.56L787.14 505.56L787.23 506.56L787.32 507.55L787.41 508.55L787.50 509.55L787.59 510.55L787.67 511.55L787.76 512.55L787.85 513.55L787.94 514.55L788.04 515.54L788.13 516.54L788.22 517.54L788.32 518.54L788.41 519.54L788.51 520.53L788.61 521.53L788.71 522.53L788.81 523.53L788.91 524.52L789.01 525.52L789.11 526.52L789.21 527.52L789.31 528.52L789.41 529.52L789.51 530.52L789.61 531.52L789.72 532.52L789.84 533.51L789.96 534.51L790.09 535.50L790.23 536.49L790.38 537.48L790.54 538.46L790.71 539.49L790.89 540.54L791.10 541.58L791.34 542.57L791.64 543.49L792.00 544.30L792.62 545.12L793.51 545.78L794.38 545.90L795.24 545.90L796.11 545.90L797.00 545.90L797.89 545.90L798.80 545.90L799.72 545.90L800.65 545.90L801.60 545.90L802.57 545.90L803.55 545.90L804.54 545.90L805.55 545.90L806.58 545.90L807.63 545.90L808.69 545.90L809.78 545.90L810.88 545.90L812.00 545.90L813.15 545.90L814.31 545.90L815.50 545.90" clip-path="url(#cld)" stroke="#111" stroke-width="0.95" fill="none" stroke-linejoin="round"/>
<path d="M545.90 545.69H552.30M549.10 542.49V548.89M546.75 543.34L551.45 548.04M546.75 548.04L551.45 543.34M548.20 544.79h1.8v1.8h-1.8zM564.81 545.67H571.21M568.01 542.47V548.87M565.66 543.32L570.36 548.02M565.66 548.02L570.36 543.32M567.11 544.77h1.8v1.8h-1.8zM584.33 545.63H590.73M587.53 542.43V548.83M585.18 543.28L589.88 547.98M585.18 547.98L589.88 543.28M586.63 544.73h1.8v1.8h-1.8zM596.13 545.60H602.53M599.33 542.40V548.80M596.98 543.25L601.68 547.95M596.98 547.95L601.68 543.25M598.43 544.70h1.8v1.8h-1.8zM604.94 545.58H611.34M608.14 542.38V548.78M605.79 543.23L610.49 547.93M605.79 547.93L610.49 543.23M607.24 544.68h1.8v1.8h-1.8zM612.04 545.55H618.44M615.24 542.35V548.75M612.89 543.20L617.59 547.90M612.89 547.90L617.59 543.20M614.34 544.65h1.8v1.8h-1.8zM618.05 545.52H624.45M621.25 542.32V548.72M618.90 543.17L623.60 547.87M618.90 547.87L623.60 543.17M620.35 544.62h1.8v1.8h-1.8zM623.35 545.49H629.75M626.55 542.29V548.69M624.20 543.14L628.90 547.84M624.20 547.84L628.90 543.14M625.65 544.59h1.8v1.8h-1.8zM628.34 545.42H634.74M631.54 542.22V548.62M629.19 543.07L633.89 547.77M629.19 547.77L633.89 543.07M630.64 544.52h1.8v1.8h-1.8zM632.76 545.33H639.16M635.96 542.13V548.53M633.61 542.98L638.31 547.68M633.61 547.68L638.31 542.98M635.06 544.43h1.8v1.8h-1.8zM636.81 545.21H643.21M640.01 542.01V548.41M637.66 542.86L642.36 547.56M637.66 547.56L642.36 542.86M639.11 544.31h1.8v1.8h-1.8zM640.57 545.06H646.97M643.77 541.86V548.26M641.42 542.71L646.12 547.41M641.42 547.41L646.12 542.71M642.87 544.16h1.8v1.8h-1.8zM644.09 544.77H650.49M647.29 541.57V547.97M644.94 542.42L649.64 547.12M644.94 547.12L649.64 542.42M646.39 543.87h1.8v1.8h-1.8zM647.42 544.10H653.82M650.62 540.90V547.30M648.27 541.75L652.97 546.45M648.27 546.45L652.97 541.75M649.72 543.20h1.8v1.8h-1.8zM650.58 543.20H656.98M653.78 540.00V546.40M651.43 540.85L656.13 545.55M651.43 545.55L656.13 540.85M652.88 542.30h1.8v1.8h-1.8zM653.60 542.22H660.00M656.80 539.02V545.42M654.45 539.87L659.15 544.57M654.45 544.57L659.15 539.87M655.90 541.32h1.8v1.8h-1.8zM656.50 540.91H662.90M659.70 537.71V544.11M657.35 538.56L662.05 543.26M657.35 543.26L662.05 538.56M658.80 540.01h1.8v1.8h-1.8zM659.29 539.31H665.69M662.49 536.11V542.51M660.14 536.96L664.84 541.66M660.14 541.66L664.84 536.96M661.59 538.41h1.8v1.8h-1.8zM662.00 537.44H668.40M665.20 534.24V540.64M662.85 535.09L667.55 539.79M662.85 539.79L667.55 535.09M664.30 536.54h1.8v1.8h-1.8zM664.63 535.16H671.03M667.83 531.96V538.36M665.48 532.81L670.18 537.51M665.48 537.51L670.18 532.81M666.93 534.26h1.8v1.8h-1.8zM667.19 532.30H673.59M670.39 529.10V535.50M668.04 529.95L672.74 534.65M668.04 534.65L672.74 529.95M669.49 531.40h1.8v1.8h-1.8zM669.69 529.70H676.09M672.89 526.50V532.90M670.54 527.35L675.24 532.05M670.54 532.05L675.24 527.35M671.99 528.80h1.8v1.8h-1.8zM672.13 527.69H678.53M675.33 524.49V530.89M672.98 525.34L677.68 530.04M672.98 530.04L677.68 525.34M674.43 526.79h1.8v1.8h-1.8zM674.53 524.62H680.93M677.73 521.42V527.82M675.38 522.27L680.08 526.97M675.38 526.97L680.08 522.27M676.83 523.72h1.8v1.8h-1.8zM676.88 520.51H683.28M680.08 517.31V523.71M677.73 518.16L682.43 522.86M677.73 522.86L682.43 518.16M679.18 519.61h1.8v1.8h-1.8zM679.19 515.07H685.59M682.39 511.87V518.27M680.04 512.72L684.74 517.42M680.04 517.42L684.74 512.72M681.49 514.17h1.8v1.8h-1.8zM681.47 509.80H687.87M684.67 506.60V513.00M682.32 507.45L687.02 512.15M682.32 512.15L687.02 507.45M683.77 508.90h1.8v1.8h-1.8zM683.71 503.28H690.11M686.91 500.08V506.48M684.56 500.93L689.26 505.63M684.56 505.63L689.26 500.93M686.01 502.38h1.8v1.8h-1.8zM685.92 496.44H692.32M689.12 493.24V499.64M686.77 494.09L691.47 498.79M686.77 498.79L691.47 494.09M688.22 495.54h1.8v1.8h-1.8zM688.11 489.45H694.51M691.31 486.25V492.65M688.96 487.10L693.66 491.80M688.96 491.80L693.66 487.10M690.41 488.55h1.8v1.8h-1.8zM690.28 482.80H696.68M693.48 479.60V486.00M691.13 480.45L695.83 485.15M691.13 485.15L695.83 480.45M692.58 481.90h1.8v1.8h-1.8zM692.42 475.75H698.82M695.62 472.55V478.95M693.27 473.40L697.97 478.10M693.27 478.10L697.97 473.40M694.72 474.85h1.8v1.8h-1.8zM694.54 467.56H700.94M697.74 464.36V470.76M695.39 465.21L700.09 469.91M695.39 469.91L700.09 465.21M696.84 466.66h1.8v1.8h-1.8zM696.65 458.79H703.05M699.85 455.59V461.99M697.50 456.44L702.20 461.14M697.50 461.14L702.20 456.44M698.95 457.89h1.8v1.8h-1.8zM698.73 445.47H705.13M701.93 442.27V448.67M699.58 443.12L704.28 447.82M699.58 447.82L704.28 443.12M701.03 444.57h1.8v1.8h-1.8zM700.78 436.89H707.18M703.98 433.69V440.09M701.63 434.54L706.33 439.24M701.63 439.24L706.33 434.54M703.08 435.99h1.8v1.8h-1.8zM702.80 427.27H709.20M706.00 424.07V430.47M703.65 424.92L708.35 429.62M703.65 429.62L708.35 424.92M705.10 426.37h1.8v1.8h-1.8zM704.80 417.83H711.20M708.00 414.63V421.03M705.65 415.48L710.35 420.18M705.65 420.18L710.35 415.48M707.10 416.93h1.8v1.8h-1.8zM706.79 408.02H713.19M709.99 404.82V411.22M707.64 405.67L712.34 410.37M707.64 410.37L712.34 405.67M709.09 407.12h1.8v1.8h-1.8zM708.77 398.80H715.17M711.97 395.60V402.00M709.62 396.45L714.32 401.15M709.62 401.15L714.32 396.45M711.07 397.90h1.8v1.8h-1.8zM710.74 386.46H717.14M713.94 383.26V389.66M711.59 384.11L716.29 388.81M711.59 388.81L716.29 384.11M713.04 385.56h1.8v1.8h-1.8zM712.65 374.09H719.05M715.85 370.89V377.29M713.50 371.74L718.20 376.44M713.50 376.44L718.20 371.74M714.95 373.19h1.8v1.8h-1.8zM714.53 364.73H720.93M717.73 361.53V367.93M715.38 362.38L720.08 367.08M715.38 367.08L720.08 362.38M716.83 363.83h1.8v1.8h-1.8zM716.39 356.15H722.79M719.59 352.95V359.35M717.24 353.80L721.94 358.50M717.24 358.50L721.94 353.80M718.69 355.25h1.8v1.8h-1.8zM718.29 347.67H724.69M721.49 344.47V350.87M719.14 345.32L723.84 350.02M719.14 350.02L723.84 345.32M720.59 346.77h1.8v1.8h-1.8zM720.21 338.50H726.61M723.41 335.30V341.70M721.06 336.15L725.76 340.85M721.06 340.85L725.76 336.15M722.51 337.60h1.8v1.8h-1.8zM722.13 331.97H728.53M725.33 328.77V335.17M722.98 329.62L727.68 334.32M722.98 334.32L727.68 329.62M724.43 331.07h1.8v1.8h-1.8zM746.50 340.38H752.90M749.70 337.18V343.58M747.35 338.03L752.05 342.73M747.35 342.73L752.05 338.03M748.80 339.48h1.8v1.8h-1.8zM748.63 364.16H755.03M751.83 360.96V367.36M749.48 361.81L754.18 366.51M749.48 366.51L754.18 361.81M750.93 363.26h1.8v1.8h-1.8zM750.75 385.28H757.15M753.95 382.08V388.48M751.60 382.93L756.30 387.63M751.60 387.63L756.30 382.93M753.05 384.38h1.8v1.8h-1.8zM752.82 405.31H759.22M756.02 402.11V408.51M753.67 402.96L758.37 407.66M753.67 407.66L758.37 402.96M755.12 404.41h1.8v1.8h-1.8zM754.84 423.30H761.24M758.04 420.10V426.50M755.69 420.95L760.39 425.65M755.69 425.65L760.39 420.95M757.14 422.40h1.8v1.8h-1.8zM756.89 435.45H763.29M760.09 432.25V438.65M757.74 433.10L762.44 437.80M757.74 437.80L762.44 433.10M759.19 434.55h1.8v1.8h-1.8zM758.94 442.49H765.34M762.14 439.29V445.69M759.79 440.14L764.49 444.84M759.79 444.84L764.49 440.14M761.24 441.59h1.8v1.8h-1.8zM760.99 446.03H767.39M764.19 442.83V449.23M761.84 443.68L766.54 448.38M761.84 448.38L766.54 443.68M763.29 445.13h1.8v1.8h-1.8zM763.09 447.22H769.49M766.29 444.02V450.42M763.94 444.87L768.64 449.57M763.94 449.57L768.64 444.87M765.39 446.32h1.8v1.8h-1.8zM765.24 445.28H771.64M768.44 442.08V448.48M766.09 442.93L770.79 447.63M766.09 447.63L770.79 442.93M767.54 444.38h1.8v1.8h-1.8zM767.45 441.31H773.85M770.65 438.11V444.51M768.30 438.96L773.00 443.66M768.30 443.66L773.00 438.96M769.75 440.41h1.8v1.8h-1.8zM769.65 437.38H776.05M772.85 434.18V440.58M770.50 435.03L775.20 439.73M770.50 439.73L775.20 435.03M771.95 436.48h1.8v1.8h-1.8zM771.85 432.67H778.25M775.05 429.47V435.87M772.70 430.32L777.40 435.02M772.70 435.02L777.40 430.32M774.15 431.77h1.8v1.8h-1.8zM774.10 430.81H780.50M777.30 427.61V434.01M774.95 428.46L779.65 433.16M774.95 433.16L779.65 428.46M776.40 429.91h1.8v1.8h-1.8zM776.36 435.37H782.76M779.56 432.17V438.57M777.21 433.02L781.91 437.72M777.21 437.72L781.91 433.02M778.66 434.47h1.8v1.8h-1.8zM778.60 447.98H785.00M781.80 444.78V451.18M779.45 445.63L784.15 450.33M779.45 450.33L784.15 445.63M780.90 447.08h1.8v1.8h-1.8zM780.80 465.73H787.20M784.00 462.53V468.93M781.65 463.38L786.35 468.08M781.65 468.08L786.35 463.38M783.10 464.83h1.8v1.8h-1.8zM783.01 497.06H789.41M786.21 493.86V500.26M783.86 494.71L788.56 499.41M783.86 499.41L788.56 494.71M785.31 496.16h1.8v1.8h-1.8zM785.21 525.65H791.61M788.41 522.45V528.85M786.06 523.30L790.76 528.00M786.06 528.00L790.76 523.30M787.51 524.75h1.8v1.8h-1.8zM787.41 539.71H793.81M790.61 536.51V542.91M788.26 537.36L792.96 542.06M788.26 542.06L792.96 537.36M789.71 538.81h1.8v1.8h-1.8zM789.61 543.67H796.01M792.81 540.47V546.87M790.46 541.32L795.16 546.02M790.46 546.02L795.16 541.32M791.91 542.77h1.8v1.8h-1.8zM791.81 543.77H798.21M795.01 540.57V546.97M792.66 541.42L797.36 546.12M792.66 546.12L797.36 541.42M794.11 542.87h1.8v1.8h-1.8zM794.01 543.70H800.41M797.21 540.50V546.90M794.86 541.35L799.56 546.05M794.86 546.05L799.56 541.35M796.31 542.80h1.8v1.8h-1.8zM796.21 543.62H802.61M799.41 540.42V546.82M797.06 541.27L801.76 545.97M797.06 545.97L801.76 541.27M798.51 542.72h1.8v1.8h-1.8zM798.42 543.54H804.82M801.62 540.34V546.74M799.27 541.19L803.97 545.89M799.27 545.89L803.97 541.19M800.72 542.64h1.8v1.8h-1.8zM800.62 543.44H807.02M803.82 540.24V546.64M801.47 541.09L806.17 545.79M801.47 545.79L806.17 541.09M802.92 542.54h1.8v1.8h-1.8zM802.82 543.40H809.22M806.02 540.20V546.60M803.67 541.05L808.37 545.75M803.67 545.75L808.37 541.05M805.12 542.50h1.8v1.8h-1.8zM805.02 543.47H811.42M808.22 540.27V546.67M805.87 541.12L810.57 545.82M805.87 545.82L810.57 541.12M807.32 542.57h1.8v1.8h-1.8zM807.22 543.67H813.62M810.42 540.47V546.87M808.07 541.32L812.77 546.02M808.07 546.02L812.77 541.32M809.52 542.77h1.8v1.8h-1.8zM809.42 544.44H815.82M812.62 541.24V547.64M810.27 542.09L814.97 546.79M810.27 546.79L814.97 542.09M811.72 543.54h1.8v1.8h-1.8zM811.62 545.30H818.02M814.82 542.10V548.50M812.47 542.95L817.17 547.65M812.47 547.65L817.17 542.95M813.92 544.40h1.8v1.8h-1.8zM813.83 545.86H820.23M817.03 542.66V549.06M814.68 543.51L819.38 548.21M814.68 548.21L819.38 543.51M816.13 544.96h1.8v1.8h-1.8z" stroke="#000" stroke-width="0.8" fill="#000"/>
<g stroke="#000" stroke-width="0.9" fill="none"><circle cx="549.10" cy="545.69" r="3.1"/><circle cx="568.01" cy="545.67" r="3.1"/><circle cx="587.53" cy="545.63" r="3.1"/><circle cx="599.33" cy="545.60" r="3.1"/><circle cx="608.14" cy="545.56" r="3.1"/><circle cx="615.24" cy="545.50" r="3.1"/><circle cx="621.25" cy="545.44" r="3.1"/><circle cx="626.55" cy="545.38" r="3.1"/><circle cx="631.54" cy="545.32" r="3.1"/><circle cx="635.96" cy="545.23" r="3.1"/><circle cx="640.01" cy="545.10" r="3.1"/><circle cx="643.77" cy="544.59" r="3.1"/><circle cx="647.29" cy="543.63" r="3.1"/><circle cx="650.62" cy="542.50" r="3.1"/><circle cx="653.78" cy="541.33" r="3.1"/><circle cx="656.80" cy="539.87" r="3.1"/><circle cx="659.70" cy="538.20" r="3.1"/><circle cx="662.49" cy="536.24" r="3.1"/><circle cx="665.20" cy="533.97" r="3.1"/><circle cx="667.83" cy="531.33" r="3.1"/><circle cx="670.39" cy="528.19" r="3.1"/><circle cx="672.89" cy="524.51" r="3.1"/><circle cx="675.33" cy="520.20" r="3.1"/><circle cx="677.73" cy="515.44" r="3.1"/><circle cx="680.08" cy="510.46" r="3.1"/><circle cx="682.39" cy="504.80" r="3.1"/><circle cx="684.67" cy="499.93" r="3.1"/><circle cx="686.91" cy="493.23" r="3.1"/><circle cx="689.12" cy="486.06" r="3.1"/><circle cx="691.31" cy="478.85" r="3.1"/><circle cx="693.48" cy="471.41" r="3.1"/><circle cx="695.62" cy="463.75" r="3.1"/><circle cx="697.74" cy="456.19" r="3.1"/><circle cx="699.85" cy="449.56" r="3.1"/><circle cx="701.93" cy="440.50" r="3.1"/><circle cx="703.98" cy="432.28" r="3.1"/><circle cx="706.00" cy="423.12" r="3.1"/><circle cx="708.00" cy="413.00" r="3.1"/><circle cx="709.99" cy="405.77" r="3.1"/><circle cx="711.97" cy="397.57" r="3.1"/><circle cx="713.94" cy="388.66" r="3.1"/><circle cx="715.85" cy="381.20" r="3.1"/><circle cx="717.73" cy="373.80" r="3.1"/><circle cx="719.59" cy="366.49" r="3.1"/><circle cx="721.49" cy="360.11" r="3.1"/><circle cx="723.41" cy="354.30" r="3.1"/><circle cx="725.33" cy="349.70" r="3.1"/><circle cx="727.25" cy="345.21" r="3.1"/><circle cx="729.17" cy="341.43" r="3.1"/><circle cx="731.10" cy="338.90" r="3.1"/><circle cx="733.09" cy="337.20" r="3.1"/><circle cx="735.15" cy="336.40" r="3.1"/><circle cx="737.22" cy="336.78" r="3.1"/><circle cx="739.29" cy="338.11" r="3.1"/><circle cx="741.34" cy="340.36" r="3.1"/><circle cx="743.36" cy="344.75" r="3.1"/><circle cx="745.39" cy="351.65" r="3.1"/><circle cx="747.50" cy="361.75" r="3.1"/><circle cx="749.70" cy="375.20" r="3.1"/><circle cx="751.83" cy="394.11" r="3.1"/><circle cx="753.95" cy="412.59" r="3.1"/><circle cx="756.02" cy="428.50" r="3.1"/><circle cx="758.04" cy="440.79" r="3.1"/><circle cx="760.09" cy="449.14" r="3.1"/><circle cx="762.14" cy="452.77" r="3.1"/><circle cx="764.19" cy="450.94" r="3.1"/><circle cx="766.29" cy="447.29" r="3.1"/><circle cx="768.44" cy="444.00" r="3.1"/><circle cx="770.65" cy="441.22" r="3.1"/><circle cx="772.85" cy="442.18" r="3.1"/><circle cx="775.05" cy="450.69" r="3.1"/><circle cx="777.30" cy="461.07" r="3.1"/><circle cx="779.56" cy="476.69" r="3.1"/><circle cx="781.80" cy="495.22" r="3.1"/><circle cx="784.00" cy="516.01" r="3.1"/><circle cx="786.21" cy="531.92" r="3.1"/><circle cx="788.41" cy="540.79" r="3.1"/><circle cx="790.61" cy="543.24" r="3.1"/><circle cx="792.81" cy="543.80" r="3.1"/><circle cx="795.01" cy="543.77" r="3.1"/><circle cx="797.21" cy="543.70" r="3.1"/><circle cx="799.41" cy="543.62" r="3.1"/><circle cx="801.62" cy="543.54" r="3.1"/><circle cx="803.82" cy="543.44" r="3.1"/><circle cx="806.02" cy="543.40" r="3.1"/><circle cx="808.22" cy="543.47" r="3.1"/><circle cx="810.42" cy="543.67" r="3.1"/><circle cx="812.62" cy="544.44" r="3.1"/><circle cx="814.82" cy="545.30" r="3.1"/><circle cx="817.03" cy="545.86" r="3.1"/></g>
<rect x="102.4" y="22.0" width="121.1" height="80.1" fill="#fff" stroke="#555" stroke-width="1.1"/>
<path d="M109 35.6H139.1" stroke="#222" stroke-width="0.85"/>
<path d="M120.70 61.50H127.10M123.90 58.30V64.70M121.55 59.15L126.25 63.85M121.55 63.85L126.25 59.15M123.00 60.60h1.8v1.8h-1.8z" stroke="#000" stroke-width="0.8" fill="#000"/>
<circle cx="123.9" cy="87.7" r="3.1" stroke="#000" stroke-width="0.9" fill="none"/>
<g font-family='"Liberation Serif", "DejaVu Serif", serif' fill="#000">
<text x="2.00" y="24.34" style="font-size:29.33px;">(</text>
<text x="11.42" y="24.50" style="font-size:29.50px;font-style:italic;">a</text>
<text x="28.17" y="23.96" style="font-size:28.84px;">)</text>
<text x="442.50" y="24.34" style="font-size:29.33px;">(</text>
<text x="451.47" y="24.50" style="font-size:29.50px;font-style:italic;">b</text>
<text x="468.27" y="23.96" style="font-size:28.84px;">)</text>
<text x="3.40" y="339.54" style="font-size:29.33px;">(</text>
<text x="13.19" y="339.40" style="font-size:29.50px;font-style:italic;">c</text>
<text x="28.17" y="339.16" style="font-size:28.84px;">)</text>
<text x="441.30" y="339.54" style="font-size:29.33px;">(</text>
<text x="450.50" y="339.40" style="font-size:29.50px;font-style:italic;">d</text>
<text x="468.27" y="339.16" style="font-size:28.84px;">)</text>
<text x="50.87" y="21.90" style="font-size:24.50px;" textLength="37.48" lengthAdjust="spacingAndGlyphs">100</text>
<text x="61.21" y="131.10" style="font-size:24.50px;" textLength="27.23" lengthAdjust="spacingAndGlyphs">50</text>
<text x="75.42" y="239.80" style="font-size:24.50px;" textLength="12.98" lengthAdjust="spacingAndGlyphs">0</text>
<text x="488.87" y="22.00" style="font-size:24.50px;" textLength="37.48" lengthAdjust="spacingAndGlyphs">100</text>
<text x="499.21" y="131.00" style="font-size:24.50px;" textLength="27.23" lengthAdjust="spacingAndGlyphs">50</text>
<text x="513.42" y="239.80" style="font-size:24.50px;" textLength="12.98" lengthAdjust="spacingAndGlyphs">0</text>
<text x="51.07" y="337.30" style="font-size:24.50px;" textLength="37.48" lengthAdjust="spacingAndGlyphs">100</text>
<text x="61.41" y="446.20" style="font-size:24.50px;" textLength="27.23" lengthAdjust="spacingAndGlyphs">50</text>
<text x="75.62" y="555.10" style="font-size:24.50px;" textLength="12.98" lengthAdjust="spacingAndGlyphs">0</text>
<text x="488.87" y="337.40" style="font-size:24.50px;" textLength="37.48" lengthAdjust="spacingAndGlyphs">100</text>
<text x="499.21" y="446.30" style="font-size:24.50px;" textLength="27.23" lengthAdjust="spacingAndGlyphs">50</text>
<text x="513.42" y="555.30" style="font-size:24.50px;" textLength="12.98" lengthAdjust="spacingAndGlyphs">0</text>
<text x="142.32" y="261.80" style="font-size:24.50px;" textLength="24.81" lengthAdjust="spacingAndGlyphs">10</text>
<text x="167.04" y="254.23" style="font-size:15.50px;" stroke="#000" stroke-width="0.3" textLength="11.89" lengthAdjust="spacingAndGlyphs">−</text>
<text x="178.34" y="253.10" style="font-size:15.50px;" textLength="9.74" lengthAdjust="spacingAndGlyphs">2</text>
<text x="200.82" y="261.80" style="font-size:24.50px;" textLength="24.81" lengthAdjust="spacingAndGlyphs">10</text>
<text x="225.54" y="254.23" style="font-size:15.50px;" stroke="#000" stroke-width="0.3" textLength="11.89" lengthAdjust="spacingAndGlyphs">−</text>
<text x="237.90" y="253.10" style="font-size:15.50px;" textLength="6.82" lengthAdjust="spacingAndGlyphs">1</text>
<text x="266.12" y="261.80" style="font-size:24.50px;" textLength="24.81" lengthAdjust="spacingAndGlyphs">10</text>
<text x="290.94" y="253.10" style="font-size:15.50px;" textLength="8.63" lengthAdjust="spacingAndGlyphs">0</text>
<text x="325.22" y="261.80" style="font-size:24.50px;" textLength="24.81" lengthAdjust="spacingAndGlyphs">10</text>
<text x="350.65" y="253.10" style="font-size:15.50px;" textLength="6.54" lengthAdjust="spacingAndGlyphs">1</text>
<text x="383.62" y="261.80" style="font-size:24.50px;" textLength="24.81" lengthAdjust="spacingAndGlyphs">10</text>
<text x="408.30" y="253.10" style="font-size:15.50px;" textLength="9.11" lengthAdjust="spacingAndGlyphs">2</text>
<text x="579.82" y="261.70" style="font-size:24.50px;" textLength="24.81" lengthAdjust="spacingAndGlyphs">10</text>
<text x="604.54" y="254.12" style="font-size:15.50px;" stroke="#000" stroke-width="0.3" textLength="11.89" lengthAdjust="spacingAndGlyphs">−</text>
<text x="615.84" y="253.00" style="font-size:15.50px;" textLength="9.74" lengthAdjust="spacingAndGlyphs">2</text>
<text x="638.82" y="261.70" style="font-size:24.50px;" textLength="24.81" lengthAdjust="spacingAndGlyphs">10</text>
<text x="663.54" y="254.12" style="font-size:15.50px;" stroke="#000" stroke-width="0.3" textLength="11.89" lengthAdjust="spacingAndGlyphs">−</text>
<text x="675.90" y="253.00" style="font-size:15.50px;" textLength="6.82" lengthAdjust="spacingAndGlyphs">1</text>
<text x="704.42" y="261.70" style="font-size:24.50px;" textLength="24.81" lengthAdjust="spacingAndGlyphs">10</text>
<text x="729.24" y="253.00" style="font-size:15.50px;" textLength="8.63" lengthAdjust="spacingAndGlyphs">0</text>
<text x="763.32" y="261.70" style="font-size:24.50px;" textLength="24.81" lengthAdjust="spacingAndGlyphs">10</text>
<text x="788.75" y="253.00" style="font-size:15.50px;" textLength="6.54" lengthAdjust="spacingAndGlyphs">1</text>
<text x="821.52" y="261.70" style="font-size:24.50px;" textLength="24.81" lengthAdjust="spacingAndGlyphs">10</text>
<text x="846.20" y="253.00" style="font-size:15.50px;" textLength="9.11" lengthAdjust="spacingAndGlyphs">2</text>
<text x="141.62" y="576.30" style="font-size:24.50px;" textLength="24.81" lengthAdjust="spacingAndGlyphs">10</text>
<text x="166.34" y="568.72" style="font-size:15.50px;" stroke="#000" stroke-width="0.3" textLength="11.89" lengthAdjust="spacingAndGlyphs">−</text>
<text x="177.64" y="567.60" style="font-size:15.50px;" textLength="9.74" lengthAdjust="spacingAndGlyphs">2</text>
<text x="200.82" y="576.30" style="font-size:24.50px;" textLength="24.81" lengthAdjust="spacingAndGlyphs">10</text>
<text x="225.54" y="568.72" style="font-size:15.50px;" stroke="#000" stroke-width="0.3" textLength="11.89" lengthAdjust="spacingAndGlyphs">−</text>
<text x="237.90" y="567.60" style="font-size:15.50px;" textLength="6.82" lengthAdjust="spacingAndGlyphs">1</text>
<text x="266.62" y="576.30" style="font-size:24.50px;" textLength="24.81" lengthAdjust="spacingAndGlyphs">10</text>
<text x="291.44" y="567.60" style="font-size:15.50px;" textLength="8.63" lengthAdjust="spacingAndGlyphs">0</text>
<text x="325.32" y="576.30" style="font-size:24.50px;" textLength="24.81" lengthAdjust="spacingAndGlyphs">10</text>
<text x="350.75" y="567.60" style="font-size:15.50px;" textLength="6.54" lengthAdjust="spacingAndGlyphs">1</text>
<text x="383.72" y="576.30" style="font-size:24.50px;" textLength="24.81" lengthAdjust="spacingAndGlyphs">10</text>
<text x="408.40" y="567.60" style="font-size:15.50px;" textLength="9.11" lengthAdjust="spacingAndGlyphs">2</text>
<text x="579.92" y="576.50" style="font-size:24.50px;" textLength="24.81" lengthAdjust="spacingAndGlyphs">10</text>
<text x="604.64" y="568.92" style="font-size:15.50px;" stroke="#000" stroke-width="0.3" textLength="11.89" lengthAdjust="spacingAndGlyphs">−</text>
<text x="615.94" y="567.80" style="font-size:15.50px;" textLength="9.74" lengthAdjust="spacingAndGlyphs">2</text>
<text x="639.02" y="576.50" style="font-size:24.50px;" textLength="24.81" lengthAdjust="spacingAndGlyphs">10</text>
<text x="663.74" y="568.92" style="font-size:15.50px;" stroke="#000" stroke-width="0.3" textLength="11.89" lengthAdjust="spacingAndGlyphs">−</text>
<text x="676.10" y="567.80" style="font-size:15.50px;" textLength="6.82" lengthAdjust="spacingAndGlyphs">1</text>
<text x="704.62" y="576.50" style="font-size:24.50px;" textLength="24.81" lengthAdjust="spacingAndGlyphs">10</text>
<text x="729.44" y="567.80" style="font-size:15.50px;" textLength="8.63" lengthAdjust="spacingAndGlyphs">0</text>
<text x="763.62" y="576.50" style="font-size:24.50px;" textLength="24.81" lengthAdjust="spacingAndGlyphs">10</text>
<text x="789.05" y="567.80" style="font-size:15.50px;" textLength="6.54" lengthAdjust="spacingAndGlyphs">1</text>
<text x="821.62" y="576.50" style="font-size:24.50px;" textLength="24.81" lengthAdjust="spacingAndGlyphs">10</text>
<text x="846.30" y="567.80" style="font-size:15.50px;" textLength="9.11" lengthAdjust="spacingAndGlyphs">2</text>
<text x="178.78" y="290.30" style="font-size:24.50px;font-style:italic;">x</text>
<text x="191.05" y="294.37" style="font-size:32.38px;" textLength="9.80" lengthAdjust="spacingAndGlyphs">/</text>
<text x="201.53" y="290.30" style="font-size:24.50px;font-style:italic;">C</text>
<text x="222.70" y="292.50" style="font-size:24.50px;" stroke="#000" stroke-width="0.25" textLength="20.38" lengthAdjust="spacingAndGlyphs">=</text>
<text x="247.56" y="290.30" style="font-size:24.50px;">0.327</text>
<text x="635.78" y="290.10" style="font-size:24.50px;font-style:italic;">x</text>
<text x="648.05" y="294.17" style="font-size:32.38px;" textLength="9.80" lengthAdjust="spacingAndGlyphs">/</text>
<text x="658.53" y="290.10" style="font-size:24.50px;font-style:italic;">C</text>
<text x="679.70" y="292.30" style="font-size:24.50px;" stroke="#000" stroke-width="0.25" textLength="20.38" lengthAdjust="spacingAndGlyphs">=</text>
<text x="704.56" y="290.10" style="font-size:24.50px;">0.5</text>
<text x="177.18" y="654.70" style="font-size:24.50px;font-style:italic;">x</text>
<text x="189.45" y="658.77" style="font-size:32.38px;" textLength="9.80" lengthAdjust="spacingAndGlyphs">/</text>
<text x="199.93" y="654.70" style="font-size:24.50px;font-style:italic;">C</text>
<text x="221.10" y="656.90" style="font-size:24.50px;" stroke="#000" stroke-width="0.25" textLength="20.38" lengthAdjust="spacingAndGlyphs">=</text>
<text x="245.96" y="654.70" style="font-size:24.50px;">0.655</text>
<text x="648.18" y="654.70" style="font-size:24.50px;font-style:italic;">x</text>
<text x="660.45" y="658.77" style="font-size:32.38px;" textLength="9.80" lengthAdjust="spacingAndGlyphs">/</text>
<text x="670.93" y="654.70" style="font-size:24.50px;font-style:italic;">C</text>
<text x="692.10" y="656.90" style="font-size:24.50px;" stroke="#000" stroke-width="0.25" textLength="20.38" lengthAdjust="spacingAndGlyphs">=</text>
<text x="718.35" y="654.70" style="font-size:24.50px;">1</text>
<text x="212.34" y="614.70" style="font-size:28.36px;font-style:italic;">y</text>
<text x="225.26" y="620.45" style="font-size:38.06px;" textLength="10.60" lengthAdjust="spacingAndGlyphs">/</text>
<text x="236.98" y="614.30" style="font-size:27.13px;font-style:italic;" textLength="15.26" lengthAdjust="spacingAndGlyphs">θ</text>
<text x="250.83" y="619.10" style="font-size:18.71px;font-style:italic;letter-spacing:1.5px;" textLength="27.46" lengthAdjust="spacingAndGlyphs">ref</text>
<text x="659.14" y="614.70" style="font-size:28.36px;font-style:italic;">y</text>
<text x="672.06" y="620.45" style="font-size:38.06px;" textLength="10.60" lengthAdjust="spacingAndGlyphs">/</text>
<text x="683.78" y="614.30" style="font-size:27.13px;font-style:italic;" textLength="15.26" lengthAdjust="spacingAndGlyphs">θ</text>
<text x="697.63" y="619.10" style="font-size:18.71px;font-style:italic;letter-spacing:1.5px;" textLength="27.46" lengthAdjust="spacingAndGlyphs">ref</text>
<text x="30.45" y="149.68" style="font-size:29.68px;font-style:italic;" textLength="11.50" lengthAdjust="spacingAndGlyphs" transform="rotate(-90 30.45 149.68)">ν</text>
<text x="34.79" y="137.38" style="font-size:17.70px;font-style:italic;" textLength="4.76" lengthAdjust="spacingAndGlyphs" transform="rotate(-90 34.79 137.38)">t</text>
<text x="36.30" y="130.24" style="font-size:40.20px;" textLength="10.10" lengthAdjust="spacingAndGlyphs" transform="rotate(-90 36.30 130.24)">/</text>
<text x="30.45" y="115.78" style="font-size:29.68px;font-style:italic;" textLength="11.50" lengthAdjust="spacingAndGlyphs" transform="rotate(-90 30.45 115.78)">ν</text>
<text x="30.45" y="465.08" style="font-size:29.68px;font-style:italic;" textLength="11.50" lengthAdjust="spacingAndGlyphs" transform="rotate(-90 30.45 465.08)">ν</text>
<text x="34.79" y="452.78" style="font-size:17.70px;font-style:italic;" textLength="4.76" lengthAdjust="spacingAndGlyphs" transform="rotate(-90 34.79 452.78)">t</text>
<text x="36.30" y="445.64" style="font-size:40.20px;" textLength="10.10" lengthAdjust="spacingAndGlyphs" transform="rotate(-90 36.30 445.64)">/</text>
<text x="30.45" y="431.18" style="font-size:29.68px;font-style:italic;" textLength="11.50" lengthAdjust="spacingAndGlyphs" transform="rotate(-90 30.45 431.18)">ν</text>
<text x="143.19" y="40.65" style="font-size:23.10px;">|</text>
<text x="150.16" y="44.90" style="font-size:16.00px;font-style:italic;letter-spacing:0.5px;" stroke="#000" stroke-width="0.25" textLength="29.11" lengthAdjust="spacingAndGlyphs">LSQ</text>
<text x="141.57" y="71.30" style="font-size:24.50px;font-style:italic;">k</text>
<text x="159.12" y="73.22" style="font-size:24.50px;" stroke="#000" stroke-width="0.35" textLength="18.91" lengthAdjust="spacingAndGlyphs">−</text>
<text x="184.65" y="71.35" style="font-size:21.76px;font-style:italic;" textLength="17.87" lengthAdjust="spacingAndGlyphs">ω</text>
<text x="142.11" y="96.80" style="font-size:24.50px;" textLength="72.47" lengthAdjust="spacingAndGlyphs">Inverse</text>
</g>
</svg></body></html>
